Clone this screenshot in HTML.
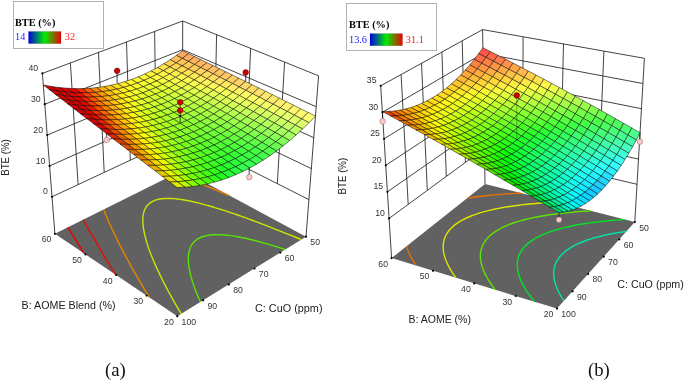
<!DOCTYPE html>
<html><head><meta charset="utf-8"><title>BTE response surfaces</title><style>html,body{margin:0;padding:0;background:#fff}svg{display:block}</style></head><body>
<svg width="685" height="380" viewBox="0 0 685 380">
<g stroke="#141414" stroke-width=".8" fill="none"><line x1="52" y1="196.8" x2="182.5" y2="135.8"/><line x1="182.5" y1="135.8" x2="308.9" y2="199.6"/><line x1="49.6" y1="165.9" x2="182.5" y2="107.1"/><line x1="182.5" y1="107.1" x2="311.4" y2="168.6"/><line x1="47.2" y1="135.1" x2="182.6" y2="78.4"/><line x1="182.6" y1="78.4" x2="313.8" y2="137.7"/><line x1="44.8" y1="104.2" x2="182.6" y2="49.7"/><line x1="182.6" y1="49.7" x2="316.2" y2="106.7"/><line x1="42.4" y1="73.4" x2="182.7" y2="21"/><line x1="182.7" y1="21" x2="318.6" y2="75.8"/><line x1="78.1" y1="184.6" x2="70.4" y2="62.9"/><line x1="104.2" y1="172.4" x2="98.5" y2="52.4"/><line x1="130.3" y1="160.2" x2="126.5" y2="41.9"/><line x1="156.4" y1="148" x2="154.6" y2="31.5"/><line x1="214.1" y1="151.8" x2="216.6" y2="34.7"/><line x1="245.7" y1="167.7" x2="250.6" y2="48.4"/><line x1="277.3" y1="183.6" x2="284.6" y2="62.1"/><line x1="54.9" y1="233.8" x2="42.4" y2="73.4"/><line x1="182.4" y1="170.3" x2="182.7" y2="21"/><line x1="306" y1="236.7" x2="318.6" y2="75.8"/></g>
<polygon points="54.9,233.8 177.3,316.2 306,236.7 182.4,170.3" fill="#616161"/>
<g fill="none" stroke-width="1.4" stroke-linecap="butt"><polyline points="285.3,249.5 281.6,248.3 278.1,247.2 275.2,246.3 272.1,245.4 268,244.1 265.1,243.3 262.1,242.5 259.2,241.7 255.5,240.7 251.8,239.8 248.6,239 245.5,238.3 242.3,237.7 239.1,237 235.8,236.4 232.7,235.9 230,235.6 227.2,235.2 223.5,234.9 220.3,234.7 217.5,234.7 214.2,234.7 210.5,235 207.6,235.4 204.3,236.2 201.7,237 198.2,238.7 195.4,240.6 193.8,242.2 192.2,244.1 191.1,246 190.3,247.7 189.6,249.6 189,251.8 188.7,253.6 188.4,255.4 188.3,257.6 188.3,259.2 188.4,261.4 188.5,263.2 188.7,265 189,267.4 189.3,269.1 189.7,271 190.2,273.3 190.7,275.4 191.1,277 191.7,279.1 192.4,281.4 193.2,283.7 193.9,285.7 194.5,287.5 195.2,289.4 196.1,291.7 197,294 198,296.2 198.9,298.5 199.9,300.8 200.5,301.9" stroke="#54e600"/><polyline points="301.3,239.6 298.7,238.5 294.9,237 291.9,235.7 288.5,234.4 284.6,232.8 282.1,231.8 278.3,230.3 275.7,229.3 271.9,227.8 269.2,226.7 265.6,225.3 262.3,224.1 259.2,222.9 255.8,221.6 252.9,220.5 249.7,219.3 246.5,218.2 243.8,217.2 240.2,215.9 237.6,215 233.8,213.7 231.2,212.8 227.7,211.7 224.8,210.7 222.2,209.8 218.3,208.6 215.6,207.8 213,207 209.8,206 206.3,205.1 203.6,204.3 200.9,203.6 198.1,202.9 195,202.2 191.8,201.4 188.7,200.8 185.7,200.2 182.9,199.8 180.3,199.4 177.3,199 173.9,198.6 170.9,198.5 168.3,198.4 165.1,198.5 161.7,198.7 158.7,199.2 156,199.9 152.6,201.3 149.8,203.1 148,204.7 146.5,206.5 145.5,208.1 144.8,209.5 144.1,211.3 143.5,213.3 143.3,214.5 143,216.6 142.9,218 142.8,220.1 142.8,221.3 142.9,223.4 143.1,225.2 143.2,226.6 143.5,228.6 143.9,230.6 144.1,232 144.5,233.8 145,235.8 145.5,237.8 146,239.5 146.4,241.1 146.9,242.9 147.6,244.9 148.2,246.9 148.9,248.9 149.7,250.9 150.3,252.7 151,254.4 151.7,256.2 152.4,258 153.2,259.9 154.1,261.9 154.9,263.9 155.8,265.9 156.7,268 157.7,270 158.6,272 159.6,274.1 160.6,276.1 161.6,278.1 162.6,280.2 163.6,282.2 164.7,284.3 165.7,286.4 166.8,288.4 167.9,290.5 169.1,292.6 170.3,294.9 171.6,297.2 172.9,299.6 174.3,302 175.5,304.2 176.8,306.3 178,308.4 179.3,310.6 180.6,312.7 181.2,313.8" stroke="#cde600"/><polyline points="103.7,209.5 104.4,211.2 105,212.9 105.7,214.5 106.4,216.2 107.1,217.8 107.8,219.5 108.5,221.3 109.3,223 110.1,224.8 110.9,226.5 111.7,228.3 112.6,230.1 113.4,232 114.3,233.8 115.2,235.7 116.1,237.5 116.9,239.3 117.8,241.1 118.7,242.9 119.7,244.7 120.6,246.5 121.5,248.4 122.5,250.2 123.4,252 124.4,253.9 125.4,255.7 126.4,257.7 127.6,259.8 128.7,261.9 129.9,264.1 131,266.1 132.1,268 133.1,269.9 134.2,271.8 135.3,273.7 136.4,275.6 137.6,277.7 139,280.1 140.4,282.4 141.6,284.4 142.7,286.4 143.9,288.3 145.1,290.3 146.3,292.3 147.9,294.8 149.4,297.3 149.5,297.4" stroke="#e68400"/><polyline points="229.5,195.6 226.4,194.3 223,192.9 220.8,192 217.4,190.6 214,189.2 211.8,188.3 208.4,186.9 205.9,185.9 202.8,184.7 199.4,183.4 197.2,182.5 193.8,181.2 191.6,180.3 188.2,179.1 186,178.2 182.6,177 180.1,176 177,174.9 174.8,174.1" stroke="#e68400"/><polyline points="83.3,219.7 84.2,221.3 85.1,223 86.3,225 87.4,227.1 88.3,228.7 89.3,230.4 90.2,232.1 91.2,233.8 92.2,235.5 93.4,237.5 94.6,239.7 95.6,241.4 96.6,243.2 97.6,244.9 98.6,246.7 99.7,248.5 101,250.7 102.3,252.8 103.3,254.6 104.4,256.4 105.5,258.2 106.5,260 108,262.3 109.3,264.5 110.4,266.3 111.5,268.2 112.6,270 113.9,272 115.4,274.5 115.4,274.5" stroke="#e60b00"/><polyline points="67.9,227.3 68.9,228.9 69.9,230.6 70.9,232.2 72.3,234.5 73.4,236.3 74.4,238 75.5,239.6 76.6,241.4 78,243.8 79.1,245.5 80.2,247.2 81.2,248.9 82.5,251 83.9,253.2 84,253.4" stroke="#e60000"/></g>
<line x1="106.7" y1="140" x2="106.7" y2="133" stroke="#111" stroke-width="0.8" stroke-opacity="1.0"/><circle cx="106.7" cy="140" r="2.8" fill="#ffc8c8" stroke="#8a6a6a" stroke-width=".5"/>
<line x1="249.2" y1="177.2" x2="249.2" y2="166" stroke="#111" stroke-width="0.8" stroke-opacity="1.0"/><circle cx="249.2" cy="177.2" r="2.8" fill="#ffc8c8" stroke="#8a6a6a" stroke-width=".5"/>
<g stroke="#000" stroke-opacity=".62" stroke-width=".78" stroke-linejoin="round"><polygon points="182.6,50.8 176.4,55.4 182.4,58.4 188.6,53.7" fill="#ffaa5e"/><polygon points="176.4,55.4 170.2,59.7 176.1,62.8 182.4,58.4" fill="#ffbf58"/><polygon points="170.2,59.7 163.8,63.7 169.8,66.9 176.1,62.8" fill="#ffd151"/><polygon points="163.8,63.7 157.5,67.5 163.4,70.7 169.8,66.9" fill="#ffe14b"/><polygon points="157.5,67.5 151,70.9 157,74.2 163.4,70.7" fill="#ffee44"/><polygon points="151,70.9 144.5,74.1 150.5,77.5 157,74.2" fill="#fff73e"/><polygon points="144.5,74.1 138,76.9 143.9,80.4 150.5,77.5" fill="#fffd37"/><polygon points="138,76.9 131.3,79.5 137.3,83 143.9,80.4" fill="#fffd31"/><polygon points="131.3,79.5 124.6,81.7 130.5,85.4 137.3,83" fill="#fff92a"/><polygon points="124.6,81.7 117.7,83.6 123.7,87.4 130.5,85.4" fill="#ffef24"/><polygon points="117.7,83.6 110.8,85.3 116.8,89.1 123.7,87.4" fill="#ffe01d"/><polygon points="110.8,85.3 103.8,86.6 109.8,90.5 116.8,89.1" fill="#ffca17"/><polygon points="103.8,86.6 96.7,87.6 102.6,91.6 109.8,90.5" fill="#ffad10"/><polygon points="96.7,87.6 89.4,88.3 95.4,92.4 102.6,91.6" fill="#ff890a"/><polygon points="89.4,88.3 82.1,88.6 88.1,92.8 95.4,92.4" fill="#ff5d03"/><polygon points="82.1,88.6 74.6,88.6 80.6,92.9 88.1,92.8" fill="#fc2b00"/><polygon points="74.6,88.6 67,88.2 73,92.6 80.6,92.9" fill="#f00000"/><polygon points="67,88.2 59.2,87.5 65.2,92 73,92.6" fill="#e00000"/><polygon points="59.2,87.5 51.3,86.4 57.4,91 65.2,92" fill="#d90000"/><polygon points="51.3,86.4 43.3,85 49.3,89.6 57.4,91" fill="#d90000"/><polygon points="188.6,53.7 182.4,58.4 188.4,61.4 194.6,56.6" fill="#ffae5f"/><polygon points="182.4,58.4 176.1,62.8 182.2,65.9 188.4,61.4" fill="#ffc459"/><polygon points="176.1,62.8 169.8,66.9 175.8,70.1 182.2,65.9" fill="#ffd752"/><polygon points="169.8,66.9 163.4,70.7 169.5,74 175.8,70.1" fill="#ffe84c"/><polygon points="163.4,70.7 157,74.2 163,77.6 169.5,74" fill="#fff645"/><polygon points="157,74.2 150.5,77.5 156.5,80.9 163,77.6" fill="#feff3f"/><polygon points="150.5,77.5 143.9,80.4 149.9,83.9 156.5,80.9" fill="#f8ff38"/><polygon points="143.9,80.4 137.3,83 143.3,86.7 149.9,83.9" fill="#f6ff32"/><polygon points="137.3,83 130.5,85.4 136.5,89.1 143.3,86.7" fill="#f9ff2b"/><polygon points="130.5,85.4 123.7,87.4 129.7,91.2 136.5,89.1" fill="#fffc25"/><polygon points="123.7,87.4 116.8,89.1 122.8,93 129.7,91.2" fill="#ffee1e"/><polygon points="116.8,89.1 109.8,90.5 115.8,94.5 122.8,93" fill="#ffda18"/><polygon points="109.8,90.5 102.6,91.6 108.7,95.7 115.8,94.5" fill="#ffbe11"/><polygon points="102.6,91.6 95.4,92.4 101.4,96.5 108.7,95.7" fill="#ff9c0b"/><polygon points="95.4,92.4 88.1,92.8 94.1,97 101.4,96.5" fill="#ff7105"/><polygon points="88.1,92.8 80.6,92.9 86.6,97.2 94.1,97" fill="#fd4000"/><polygon points="80.6,92.9 73,92.6 79,97 86.6,97.2" fill="#f30c00"/><polygon points="73,92.6 65.2,92 71.3,96.5 79,97" fill="#e30000"/><polygon points="65.2,92 57.4,91 63.4,95.6 71.3,96.5" fill="#d90000"/><polygon points="57.4,91 49.3,89.6 55.4,94.4 63.4,95.6" fill="#d90000"/><polygon points="194.6,56.6 188.4,61.4 194.5,64.5 200.8,59.6" fill="#ffb360"/><polygon points="188.4,61.4 182.2,65.9 188.3,69 194.5,64.5" fill="#ffc95a"/><polygon points="182.2,65.9 175.8,70.1 181.9,73.3 188.3,69" fill="#ffdd53"/><polygon points="175.8,70.1 169.5,74 175.5,77.3 181.9,73.3" fill="#ffef4d"/><polygon points="169.5,74 163,77.6 169.1,81 175.5,77.3" fill="#fffd46"/><polygon points="163,77.6 156.5,80.9 162.6,84.4 169.1,81" fill="#f5ff40"/><polygon points="156.5,80.9 149.9,83.9 156,87.5 162.6,84.4" fill="#eeff39"/><polygon points="149.9,83.9 143.3,86.7 149.3,90.3 156,87.5" fill="#ebff33"/><polygon points="143.3,86.7 136.5,89.1 142.6,92.9 149.3,90.3" fill="#edff2c"/><polygon points="136.5,89.1 129.7,91.2 135.8,95.1 142.6,92.9" fill="#f4ff26"/><polygon points="129.7,91.2 122.8,93 128.9,97 135.8,95.1" fill="#fffd1f"/><polygon points="122.8,93 115.8,94.5 121.9,98.5 128.9,97" fill="#ffe919"/><polygon points="115.8,94.5 108.7,95.7 114.8,99.8 121.9,98.5" fill="#ffd013"/><polygon points="108.7,95.7 101.4,96.5 107.5,100.7 114.8,99.8" fill="#ffaf0c"/><polygon points="101.4,96.5 94.1,97 100.2,101.3 107.5,100.7" fill="#ff8606"/><polygon points="94.1,97 86.6,97.2 92.7,101.6 100.2,101.3" fill="#fe5600"/><polygon points="86.6,97.2 79,97 85.2,101.5 92.7,101.6" fill="#f62100"/><polygon points="79,97 71.3,96.5 77.4,101.1 85.2,101.5" fill="#e60000"/><polygon points="71.3,96.5 63.4,95.6 69.6,100.3 77.4,101.1" fill="#d90000"/><polygon points="63.4,95.6 55.4,94.4 61.6,99.1 69.6,100.3" fill="#d90000"/><polygon points="200.8,59.6 194.5,64.5 200.7,67.5 206.9,62.6" fill="#ffb761"/><polygon points="194.5,64.5 188.3,69 194.4,72.2 200.7,67.5" fill="#ffce5b"/><polygon points="188.3,69 181.9,73.3 188.1,76.6 194.4,72.2" fill="#ffe354"/><polygon points="181.9,73.3 175.5,77.3 181.7,80.7 188.1,76.6" fill="#fff64e"/><polygon points="175.5,77.3 169.1,81 175.2,84.5 181.7,80.7" fill="#f9ff47"/><polygon points="169.1,81 162.6,84.4 168.7,88 175.2,84.5" fill="#edff41"/><polygon points="162.6,84.4 156,87.5 162.1,91.2 168.7,88" fill="#e5ff3a"/><polygon points="156,87.5 149.3,90.3 155.5,94.1 162.1,91.2" fill="#e1ff34"/><polygon points="149.3,90.3 142.6,92.9 148.7,96.7 155.5,94.1" fill="#e1ff2d"/><polygon points="142.6,92.9 135.8,95.1 141.9,99 148.7,96.7" fill="#e7ff27"/><polygon points="135.8,95.1 128.9,97 135,100.9 141.9,99" fill="#f3ff21"/><polygon points="128.9,97 121.9,98.5 128,102.6 135,100.9" fill="#fff91a"/><polygon points="121.9,98.5 114.8,99.8 120.9,104 128,102.6" fill="#ffe114"/><polygon points="114.8,99.8 107.5,100.7 113.7,105 120.9,104" fill="#ffc10d"/><polygon points="107.5,100.7 100.2,101.3 106.4,105.7 113.7,105" fill="#ff9a07"/><polygon points="100.2,101.3 92.7,101.6 98.9,106 106.4,105.7" fill="#ff6c00"/><polygon points="92.7,101.6 85.2,101.5 91.3,106 98.9,106" fill="#f83800"/><polygon points="85.2,101.5 77.4,101.1 83.6,105.7 91.3,106" fill="#e80100"/><polygon points="77.4,101.1 69.6,100.3 75.8,105 83.6,105.7" fill="#d90000"/><polygon points="69.6,100.3 61.6,99.1 67.8,103.9 75.8,105" fill="#d90000"/><polygon points="206.9,62.6 200.7,67.5 206.9,70.7 213.2,65.6" fill="#ffbc62"/><polygon points="200.7,67.5 194.4,72.2 200.6,75.4 206.9,70.7" fill="#ffd45c"/><polygon points="194.4,72.2 188.1,76.6 194.3,79.9 200.6,75.4" fill="#ffe955"/><polygon points="188.1,76.6 181.7,80.7 187.9,84.1 194.3,79.9" fill="#fffc4f"/><polygon points="181.7,80.7 175.2,84.5 181.5,88 187.9,84.1" fill="#f1ff48"/><polygon points="175.2,84.5 168.7,88 174.9,91.5 181.5,88" fill="#e4ff42"/><polygon points="168.7,88 162.1,91.2 168.3,94.8 174.9,91.5" fill="#dbff3b"/><polygon points="162.1,91.2 155.5,94.1 161.7,97.8 168.3,94.8" fill="#d6ff35"/><polygon points="155.5,94.1 148.7,96.7 155,100.5 161.7,97.8" fill="#d6ff2f"/><polygon points="148.7,96.7 141.9,99 148.1,102.9 155,100.5" fill="#daff28"/><polygon points="141.9,99 135,100.9 141.2,105 148.1,102.9" fill="#e5ff22"/><polygon points="135,100.9 128,102.6 134.2,106.7 141.2,105" fill="#f5ff1b"/><polygon points="128,102.6 120.9,104 127.1,108.2 134.2,106.7" fill="#fff215"/><polygon points="120.9,104 113.7,105 119.9,109.3 127.1,108.2" fill="#ffd40e"/><polygon points="113.7,105 106.4,105.7 112.6,110.1 119.9,109.3" fill="#ffaf08"/><polygon points="106.4,105.7 98.9,106 105.2,110.5 112.6,110.1" fill="#ff8101"/><polygon points="98.9,106 91.3,106 97.6,110.6 105.2,110.5" fill="#fa4e00"/><polygon points="91.3,106 83.6,105.7 89.9,110.4 97.6,110.6" fill="#eb1600"/><polygon points="83.6,105.7 75.8,105 82.1,109.7 89.9,110.4" fill="#db0000"/><polygon points="75.8,105 67.8,103.9 74.1,108.8 82.1,109.7" fill="#d90000"/><polygon points="213.2,65.6 206.9,70.7 213.2,73.8 219.5,68.7" fill="#ffc163"/><polygon points="206.9,70.7 200.6,75.4 206.9,78.7 213.2,73.8" fill="#ffd95d"/><polygon points="200.6,75.4 194.3,79.9 200.6,83.3 206.9,78.7" fill="#ffef56"/><polygon points="194.3,79.9 187.9,84.1 194.2,87.5 200.6,83.3" fill="#fbff50"/><polygon points="187.9,84.1 181.5,88 187.7,91.5 194.2,87.5" fill="#eaff49"/><polygon points="181.5,88 174.9,91.5 181.2,95.2 187.7,91.5" fill="#dcff43"/><polygon points="174.9,91.5 168.3,94.8 174.6,98.6 181.2,95.2" fill="#d1ff3d"/><polygon points="168.3,94.8 161.7,97.8 168,101.6 174.6,98.6" fill="#cbff36"/><polygon points="161.7,97.8 155,100.5 161.2,104.4 168,101.6" fill="#caff30"/><polygon points="155,100.5 148.1,102.9 154.4,106.9 161.2,104.4" fill="#cdff29"/><polygon points="148.1,102.9 141.2,105 147.5,109.1 154.4,106.9" fill="#d6ff23"/><polygon points="141.2,105 134.2,106.7 140.5,110.9 147.5,109.1" fill="#e5ff1c"/><polygon points="134.2,106.7 127.1,108.2 133.4,112.4 140.5,110.9" fill="#fbff16"/><polygon points="127.1,108.2 119.9,109.3 126.2,113.6 133.4,112.4" fill="#ffe70f"/><polygon points="119.9,109.3 112.6,110.1 118.9,114.5 126.2,113.6" fill="#ffc309"/><polygon points="112.6,110.1 105.2,110.5 111.5,115 118.9,114.5" fill="#ff9702"/><polygon points="105.2,110.5 97.6,110.6 103.9,115.2 111.5,115" fill="#fb6400"/><polygon points="97.6,110.6 89.9,110.4 96.2,115.1 103.9,115.2" fill="#ed2c00"/><polygon points="89.9,110.4 82.1,109.7 88.4,114.5 96.2,115.1" fill="#de0000"/><polygon points="82.1,109.7 74.1,108.8 80.4,113.7 88.4,114.5" fill="#d90000"/><polygon points="219.5,68.7 213.2,73.8 219.6,77.1 225.9,71.8" fill="#ffc564"/><polygon points="213.2,73.8 206.9,78.7 213.3,82 219.6,77.1" fill="#ffde5e"/><polygon points="206.9,78.7 200.6,83.3 206.9,86.6 213.3,82" fill="#fff557"/><polygon points="200.6,83.3 194.2,87.5 200.5,91 206.9,86.6" fill="#f4ff51"/><polygon points="194.2,87.5 187.7,91.5 194.1,95.1 200.5,91" fill="#e2ff4a"/><polygon points="187.7,91.5 181.2,95.2 187.5,98.8 194.1,95.1" fill="#d3ff44"/><polygon points="181.2,95.2 174.6,98.6 181,102.3 187.5,98.8" fill="#c8ff3e"/><polygon points="174.6,98.6 168,101.6 174.3,105.5 181,102.3" fill="#c1ff37"/><polygon points="168,101.6 161.2,104.4 167.6,108.4 174.3,105.5" fill="#beff31"/><polygon points="161.2,104.4 154.4,106.9 160.7,110.9 167.6,108.4" fill="#c0ff2a"/><polygon points="154.4,106.9 147.5,109.1 153.8,113.2 160.7,110.9" fill="#c8ff24"/><polygon points="147.5,109.1 140.5,110.9 146.9,115.1 153.8,113.2" fill="#d6ff1d"/><polygon points="140.5,110.9 133.4,112.4 139.8,116.7 146.9,115.1" fill="#eaff17"/><polygon points="133.4,112.4 126.2,113.6 132.6,118 139.8,116.7" fill="#fff910"/><polygon points="126.2,113.6 118.9,114.5 125.3,119 132.6,118" fill="#ffd70a"/><polygon points="118.9,114.5 111.5,115 117.8,119.6 125.3,119" fill="#ffad03"/><polygon points="111.5,115 103.9,115.2 110.3,119.9 117.8,119.6" fill="#fc7b00"/><polygon points="103.9,115.2 96.2,115.1 102.6,119.8 110.3,119.9" fill="#f04300"/><polygon points="96.2,115.1 88.4,114.5 94.8,119.4 102.6,119.8" fill="#e00a00"/><polygon points="88.4,114.5 80.4,113.7 86.8,118.6 94.8,119.4" fill="#d90000"/><polygon points="225.9,71.8 219.6,77.1 226,80.3 232.3,75" fill="#ffca65"/><polygon points="219.6,77.1 213.3,82 219.7,85.3 226,80.3" fill="#ffe45f"/><polygon points="213.3,82 206.9,86.6 213.4,90.1 219.7,85.3" fill="#fffb58"/><polygon points="206.9,86.6 200.5,91 207,94.5 213.4,90.1" fill="#edff52"/><polygon points="200.5,91 194.1,95.1 200.5,98.7 207,94.5" fill="#daff4c"/><polygon points="194.1,95.1 187.5,98.8 194,102.6 200.5,98.7" fill="#cbff45"/><polygon points="187.5,98.8 181,102.3 187.4,106.1 194,102.6" fill="#beff3f"/><polygon points="181,102.3 174.3,105.5 180.7,109.4 187.4,106.1" fill="#b6ff38"/><polygon points="174.3,105.5 167.6,108.4 174,112.4 180.7,109.4" fill="#b2ff32"/><polygon points="167.6,108.4 160.7,110.9 167.2,115 174,112.4" fill="#b4ff2b"/><polygon points="160.7,110.9 153.8,113.2 160.3,117.3 167.2,115" fill="#baff25"/><polygon points="153.8,113.2 146.9,115.1 153.3,119.4 160.3,117.3" fill="#c6ff1e"/><polygon points="146.9,115.1 139.8,116.7 146.2,121.1 153.3,119.4" fill="#d9ff18"/><polygon points="139.8,116.7 132.6,118 139,122.5 146.2,121.1" fill="#f3ff11"/><polygon points="132.6,118 125.3,119 131.7,123.5 139,122.5" fill="#ffeb0b"/><polygon points="125.3,119 117.8,119.6 124.3,124.2 131.7,123.5" fill="#ffc204"/><polygon points="117.8,119.6 110.3,119.9 116.7,124.6 124.3,124.2" fill="#fd9100"/><polygon points="110.3,119.9 102.6,119.8 109.1,124.6 116.7,124.6" fill="#f25900"/><polygon points="102.6,119.8 94.8,119.4 101.3,124.3 109.1,124.6" fill="#e22000"/><polygon points="94.8,119.4 86.8,118.6 93.3,123.6 101.3,124.3" fill="#d90000"/><polygon points="232.3,75 226,80.3 232.6,83.6 238.8,78.2" fill="#ffcf67"/><polygon points="226,80.3 219.7,85.3 226.2,88.7 232.6,83.6" fill="#ffe960"/><polygon points="219.7,85.3 213.4,90.1 219.9,93.6 226.2,88.7" fill="#fdff5a"/><polygon points="213.4,90.1 207,94.5 213.4,98.1 219.9,93.6" fill="#e7ff53"/><polygon points="207,94.5 200.5,98.7 207,102.4 213.4,98.1" fill="#d3ff4d"/><polygon points="200.5,98.7 194,102.6 200.4,106.3 207,102.4" fill="#c2ff46"/><polygon points="194,102.6 187.4,106.1 193.8,110 200.4,106.3" fill="#b5ff40"/><polygon points="187.4,106.1 180.7,109.4 187.2,113.3 193.8,110" fill="#acff39"/><polygon points="180.7,109.4 174,112.4 180.4,116.4 187.2,113.3" fill="#a7ff33"/><polygon points="174,112.4 167.2,115 173.6,119.1 180.4,116.4" fill="#a7ff2c"/><polygon points="167.2,115 160.3,117.3 166.7,121.6 173.6,119.1" fill="#acff26"/><polygon points="160.3,117.3 153.3,119.4 159.7,123.7 166.7,121.6" fill="#b7ff1f"/><polygon points="153.3,119.4 146.2,121.1 152.7,125.5 159.7,123.7" fill="#c8ff19"/><polygon points="146.2,121.1 139,122.5 145.5,127 152.7,125.5" fill="#e0ff12"/><polygon points="139,122.5 131.7,123.5 138.2,128.1 145.5,127" fill="#fffe0c"/><polygon points="131.7,123.5 124.3,124.2 130.8,128.9 138.2,128.1" fill="#ffd805"/><polygon points="124.3,124.2 116.7,124.6 123.3,129.4 130.8,128.9" fill="#fea800"/><polygon points="116.7,124.6 109.1,124.6 115.6,129.5 123.3,129.4" fill="#f57100"/><polygon points="109.1,124.6 101.3,124.3 107.8,129.2 115.6,129.5" fill="#e53600"/><polygon points="101.3,124.3 93.3,123.6 99.9,128.6 107.8,129.2" fill="#d90000"/><polygon points="238.8,78.2 232.6,83.6 239.1,86.9 245.4,81.4" fill="#ffd368"/><polygon points="232.6,83.6 226.2,88.7 232.8,92.2 239.1,86.9" fill="#ffee61"/><polygon points="226.2,88.7 219.9,93.6 226.4,97.1 232.8,92.2" fill="#f7ff5b"/><polygon points="219.9,93.6 213.4,98.1 220,101.7 226.4,97.1" fill="#e0ff54"/><polygon points="213.4,98.1 207,102.4 213.5,106.1 220,101.7" fill="#cbff4e"/><polygon points="207,102.4 200.4,106.3 207,110.1 213.5,106.1" fill="#baff47"/><polygon points="200.4,106.3 193.8,110 200.4,113.9 207,110.1" fill="#acff41"/><polygon points="193.8,110 187.2,113.3 193.7,117.3 200.4,113.9" fill="#a1ff3a"/><polygon points="187.2,113.3 180.4,116.4 187,120.5 193.7,117.3" fill="#9bff34"/><polygon points="180.4,116.4 173.6,119.1 180.2,123.3 187,120.5" fill="#9aff2d"/><polygon points="173.6,119.1 166.7,121.6 173.3,125.8 180.2,123.3" fill="#9eff27"/><polygon points="166.7,121.6 159.7,123.7 166.3,128.1 173.3,125.8" fill="#a8ff20"/><polygon points="159.7,123.7 152.7,125.5 159.2,129.9 166.3,128.1" fill="#b8ff1a"/><polygon points="152.7,125.5 145.5,127 152.1,131.5 159.2,129.9" fill="#ceff13"/><polygon points="145.5,127 138.2,128.1 144.8,132.7 152.1,131.5" fill="#ecff0d"/><polygon points="138.2,128.1 130.8,128.9 137.4,133.6 144.8,132.7" fill="#ffed06"/><polygon points="130.8,128.9 123.3,129.4 129.9,134.2 137.4,133.6" fill="#ffbf00"/><polygon points="123.3,129.4 115.6,129.5 122.2,134.4 129.9,134.2" fill="#f78800"/><polygon points="115.6,129.5 107.8,129.2 114.4,134.2 122.2,134.4" fill="#e74c00"/><polygon points="107.8,129.2 99.9,128.6 106.5,133.7 114.4,134.2" fill="#d91200"/><polygon points="245.4,81.4 239.1,86.9 245.8,90.3 252.1,84.7" fill="#ffd869"/><polygon points="239.1,86.9 232.8,92.2 239.4,95.6 245.8,90.3" fill="#fff362"/><polygon points="232.8,92.2 226.4,97.1 233.1,100.7 239.4,95.6" fill="#f1ff5c"/><polygon points="226.4,97.1 220,101.7 226.6,105.4 233.1,100.7" fill="#d9ff55"/><polygon points="220,101.7 213.5,106.1 220.1,109.8 226.6,105.4" fill="#c4ff4f"/><polygon points="213.5,106.1 207,110.1 213.6,114 220.1,109.8" fill="#b1ff48"/><polygon points="207,110.1 200.4,113.9 207,117.8 213.6,114" fill="#a2ff42"/><polygon points="200.4,113.9 193.7,117.3 200.3,121.4 207,117.8" fill="#97ff3b"/><polygon points="193.7,117.3 187,120.5 193.6,124.6 200.3,121.4" fill="#90ff35"/><polygon points="187,120.5 180.2,123.3 186.8,127.5 193.6,124.6" fill="#8dff2e"/><polygon points="180.2,123.3 173.3,125.8 179.9,130.2 186.8,127.5" fill="#90ff28"/><polygon points="173.3,125.8 166.3,128.1 172.9,132.5 179.9,130.2" fill="#99ff21"/><polygon points="166.3,128.1 159.2,129.9 165.9,134.5 172.9,132.5" fill="#a7ff1b"/><polygon points="159.2,129.9 152.1,131.5 158.7,136.1 165.9,134.5" fill="#bcff14"/><polygon points="152.1,131.5 144.8,132.7 151.4,137.4 158.7,136.1" fill="#d9ff0e"/><polygon points="144.8,132.7 137.4,133.6 144,138.4 151.4,137.4" fill="#fcff07"/><polygon points="137.4,133.6 129.9,134.2 136.5,139.1 144,138.4" fill="#ffd601"/><polygon points="129.9,134.2 122.2,134.4 128.9,139.4 136.5,139.1" fill="#f9a000"/><polygon points="122.2,134.4 114.4,134.2 121.1,139.3 128.9,139.4" fill="#e96300"/><polygon points="114.4,134.2 106.5,133.7 113.2,138.9 121.1,139.3" fill="#d92700"/><polygon points="252.1,84.7 245.8,90.3 252.5,93.7 258.8,88" fill="#ffdd6a"/><polygon points="245.8,90.3 239.4,95.6 246.2,99.1 252.5,93.7" fill="#fff963"/><polygon points="239.4,95.6 233.1,100.7 239.8,104.3 246.2,99.1" fill="#ebff5d"/><polygon points="233.1,100.7 226.6,105.4 233.3,109.1 239.8,104.3" fill="#d3ff56"/><polygon points="226.6,105.4 220.1,109.8 226.8,113.6 233.3,109.1" fill="#bcff50"/><polygon points="220.1,109.8 213.6,114 220.3,117.9 226.8,113.6" fill="#a9ff49"/><polygon points="213.6,114 207,117.8 213.7,121.8 220.3,117.9" fill="#99ff43"/><polygon points="207,117.8 200.3,121.4 207,125.5 213.7,121.8" fill="#8cff3c"/><polygon points="200.3,121.4 193.6,124.6 200.3,128.8 207,125.5" fill="#84ff36"/><polygon points="193.6,124.6 186.8,127.5 193.5,131.8 200.3,128.8" fill="#81ff2f"/><polygon points="186.8,127.5 179.9,130.2 186.6,134.5 193.5,131.8" fill="#82ff29"/><polygon points="179.9,130.2 172.9,132.5 179.6,136.9 186.6,134.5" fill="#89ff22"/><polygon points="172.9,132.5 165.9,134.5 172.6,139 179.6,136.9" fill="#97ff1c"/><polygon points="165.9,134.5 158.7,136.1 165.4,140.8 172.6,139" fill="#abff15"/><polygon points="158.7,136.1 151.4,137.4 158.1,142.2 165.4,140.8" fill="#c5ff0f"/><polygon points="151.4,137.4 144,138.4 150.8,143.3 158.1,142.2" fill="#e7ff08"/><polygon points="144,138.4 136.5,139.1 143.3,144 150.8,143.3" fill="#ffec02"/><polygon points="136.5,139.1 128.9,139.4 135.6,144.4 143.3,144" fill="#fab800"/><polygon points="128.9,139.4 121.1,139.3 127.9,144.4 135.6,144.4" fill="#ec7a00"/><polygon points="121.1,139.3 113.2,138.9 120,144.1 127.9,144.4" fill="#dc3d00"/><polygon points="258.8,88 252.5,93.7 259.3,97.2 265.6,91.3" fill="#ffe16b"/><polygon points="252.5,93.7 246.2,99.1 252.9,102.7 259.3,97.2" fill="#fffe64"/><polygon points="246.2,99.1 239.8,104.3 246.5,107.9 252.9,102.7" fill="#e5ff5e"/><polygon points="239.8,104.3 233.3,109.1 240.1,112.9 246.5,107.9" fill="#ccff57"/><polygon points="233.3,109.1 226.8,113.6 233.6,117.5 240.1,112.9" fill="#b5ff51"/><polygon points="226.8,113.6 220.3,117.9 227.1,121.8 233.6,117.5" fill="#a1ff4a"/><polygon points="220.3,117.9 213.7,121.8 220.4,125.9 227.1,121.8" fill="#8fff44"/><polygon points="213.7,121.8 207,125.5 213.8,129.6 220.4,125.9" fill="#82ff3d"/><polygon points="207,125.5 200.3,128.8 207,133 213.8,129.6" fill="#79ff37"/><polygon points="200.3,128.8 193.5,131.8 200.2,136.2 207,133" fill="#74ff30"/><polygon points="193.5,131.8 186.6,134.5 193.4,139 200.2,136.2" fill="#75ff2a"/><polygon points="186.6,134.5 179.6,136.9 186.4,141.5 193.4,139" fill="#7aff23"/><polygon points="179.6,136.9 172.6,139 179.3,143.6 186.4,141.5" fill="#86ff1d"/><polygon points="172.6,139 165.4,140.8 172.2,145.5 179.3,143.6" fill="#99ff16"/><polygon points="165.4,140.8 158.1,142.2 164.9,147 172.2,145.5" fill="#b2ff10"/><polygon points="158.1,142.2 150.8,143.3 157.6,148.1 164.9,147" fill="#d3ff09"/><polygon points="150.8,143.3 143.3,144 150.1,149 157.6,148.1" fill="#fbff02"/><polygon points="143.3,144 135.6,144.4 142.5,149.4 150.1,149" fill="#fbcf00"/><polygon points="135.6,144.4 127.9,144.4 134.7,149.6 142.5,149.4" fill="#ee9200"/><polygon points="127.9,144.4 120,144.1 126.9,149.3 134.7,149.6" fill="#de5300"/><polygon points="265.6,91.3 259.3,97.2 266.2,100.7 272.5,94.7" fill="#ffe66c"/><polygon points="259.3,97.2 252.9,102.7 259.8,106.3 266.2,100.7" fill="#fbff65"/><polygon points="252.9,102.7 246.5,107.9 253.4,111.6 259.8,106.3" fill="#dfff5f"/><polygon points="246.5,107.9 240.1,112.9 246.9,116.7 253.4,111.6" fill="#c5ff58"/><polygon points="240.1,112.9 233.6,117.5 240.4,121.4 246.9,116.7" fill="#adff52"/><polygon points="233.6,117.5 227.1,121.8 233.9,125.8 240.4,121.4" fill="#98ff4b"/><polygon points="227.1,121.8 220.4,125.9 227.3,130 233.9,125.8" fill="#86ff45"/><polygon points="220.4,125.9 213.8,129.6 220.6,133.8 227.3,130" fill="#78ff3e"/><polygon points="213.8,129.6 207,133 213.9,137.3 220.6,133.8" fill="#6dff38"/><polygon points="207,133 200.2,136.2 207.1,140.5 213.9,137.3" fill="#68ff31"/><polygon points="200.2,136.2 193.4,139 200.2,143.4 207.1,140.5" fill="#67ff2b"/><polygon points="193.4,139 186.4,141.5 193.2,146 200.2,143.4" fill="#6bff24"/><polygon points="186.4,141.5 179.3,143.6 186.2,148.3 193.2,146" fill="#76ff1e"/><polygon points="179.3,143.6 172.2,145.5 179,150.2 186.2,148.3" fill="#87ff17"/><polygon points="172.2,145.5 164.9,147 171.8,151.8 179,150.2" fill="#9fff10"/><polygon points="164.9,147 157.6,148.1 164.4,153.1 171.8,151.8" fill="#beff0a"/><polygon points="157.6,148.1 150.1,149 157,154 164.4,153.1" fill="#e5ff03"/><polygon points="150.1,149 142.5,149.4 149.4,154.6 157,154" fill="#fce700"/><polygon points="142.5,149.4 134.7,149.6 141.7,154.8 149.4,154.6" fill="#f0a900"/><polygon points="134.7,149.6 126.9,149.3 133.8,154.6 141.7,154.8" fill="#e06a00"/><polygon points="272.5,94.7 266.2,100.7 273.1,104.2 279.5,98.2" fill="#ffeb6d"/><polygon points="266.2,100.7 259.8,106.3 266.7,109.9 273.1,104.2" fill="#f6ff66"/><polygon points="259.8,106.3 253.4,111.6 260.3,115.4 266.7,109.9" fill="#d9ff60"/><polygon points="253.4,111.6 246.9,116.7 253.9,120.5 260.3,115.4" fill="#bfff59"/><polygon points="246.9,116.7 240.4,121.4 247.4,125.4 253.9,120.5" fill="#a6ff53"/><polygon points="240.4,121.4 233.9,125.8 240.8,129.9 247.4,125.4" fill="#90ff4c"/><polygon points="233.9,125.8 227.3,130 234.2,134.1 240.8,129.9" fill="#7dff46"/><polygon points="227.3,130 220.6,133.8 227.5,138.1 234.2,134.1" fill="#6dff3f"/><polygon points="220.6,133.8 213.9,137.3 220.8,141.7 227.5,138.1" fill="#62ff39"/><polygon points="213.9,137.3 207.1,140.5 214,145 220.8,141.7" fill="#5bff32"/><polygon points="207.1,140.5 200.2,143.4 207.1,148 214,145" fill="#59ff2c"/><polygon points="200.2,143.4 193.2,146 200.2,150.7 207.1,148" fill="#5dff25"/><polygon points="193.2,146 186.2,148.3 193.1,153 200.2,150.7" fill="#66ff1e"/><polygon points="186.2,148.3 179,150.2 186,155 193.1,153" fill="#76ff18"/><polygon points="179,150.2 171.8,151.8 178.7,156.7 186,155" fill="#8cff11"/><polygon points="171.8,151.8 164.4,153.1 171.4,158.1 178.7,156.7" fill="#aaff0b"/><polygon points="164.4,153.1 157,154 163.9,159.1 171.4,158.1" fill="#cfff04"/><polygon points="157,154 149.4,154.6 156.4,159.7 163.9,159.1" fill="#fbfd00"/><polygon points="149.4,154.6 141.7,154.8 148.7,160 156.4,159.7" fill="#f2c100"/><polygon points="141.7,154.8 133.8,154.6 140.8,160 148.7,160" fill="#e28100"/><polygon points="279.5,98.2 273.1,104.2 280.2,107.8 286.5,101.7" fill="#ffef6e"/><polygon points="273.1,104.2 266.7,109.9 273.8,113.6 280.2,107.8" fill="#f1ff68"/><polygon points="266.7,109.9 260.3,115.4 267.3,119.2 273.8,113.6" fill="#d3ff61"/><polygon points="260.3,115.4 253.9,120.5 260.9,124.4 267.3,119.2" fill="#b8ff5a"/><polygon points="253.9,120.5 247.4,125.4 254.4,129.4 260.9,124.4" fill="#9fff54"/><polygon points="247.4,125.4 240.8,129.9 247.8,134 254.4,129.4" fill="#88ff4d"/><polygon points="240.8,129.9 234.2,134.1 241.2,138.3 247.8,134" fill="#74ff47"/><polygon points="234.2,134.1 227.5,138.1 234.5,142.4 241.2,138.3" fill="#63ff40"/><polygon points="227.5,138.1 220.8,141.7 227.8,146.1 234.5,142.4" fill="#57ff3a"/><polygon points="220.8,141.7 214,145 221,149.5 227.8,146.1" fill="#4fff33"/><polygon points="214,145 207.1,148 214.1,152.6 221,149.5" fill="#4bff2c"/><polygon points="207.1,148 200.2,150.7 207.2,155.3 214.1,152.6" fill="#4eff26"/><polygon points="200.2,150.7 193.1,153 200.1,157.8 207.2,155.3" fill="#56ff1f"/><polygon points="193.1,153 186,155 193,159.9 200.1,157.8" fill="#64ff19"/><polygon points="186,155 178.7,156.7 185.8,161.7 193,159.9" fill="#79ff12"/><polygon points="178.7,156.7 171.4,158.1 178.4,163.1 185.8,161.7" fill="#96ff0c"/><polygon points="171.4,158.1 163.9,159.1 171,164.2 178.4,163.1" fill="#baff05"/><polygon points="163.9,159.1 156.4,159.7 163.4,165 171,164.2" fill="#e5fd00"/><polygon points="156.4,159.7 148.7,160 155.7,165.4 163.4,165" fill="#f4da00"/><polygon points="148.7,160 140.8,160 147.9,165.4 155.7,165.4" fill="#e49800"/><polygon points="286.5,101.7 280.2,107.8 287.3,111.4 293.6,105.2" fill="#fff46e"/><polygon points="280.2,107.8 273.8,113.6 280.9,117.4 287.3,111.4" fill="#ebff69"/><polygon points="273.8,113.6 267.3,119.2 274.4,123 280.9,117.4" fill="#ceff62"/><polygon points="267.3,119.2 260.9,124.4 267.9,128.4 274.4,123" fill="#b1ff5c"/><polygon points="260.9,124.4 254.4,129.4 261.4,133.4 267.9,128.4" fill="#97ff55"/><polygon points="254.4,129.4 247.8,134 254.9,138.1 261.4,133.4" fill="#7fff4e"/><polygon points="247.8,134 241.2,138.3 248.2,142.6 254.9,138.1" fill="#6aff48"/><polygon points="241.2,138.3 234.5,142.4 241.6,146.7 248.2,142.6" fill="#59ff41"/><polygon points="234.5,142.4 227.8,146.1 234.8,150.5 241.6,146.7" fill="#4bff3b"/><polygon points="227.8,146.1 221,149.5 228.1,154 234.8,150.5" fill="#42ff34"/><polygon points="221,149.5 214.1,152.6 221.2,157.2 228.1,154" fill="#3eff2d"/><polygon points="214.1,152.6 207.2,155.3 214.2,160.1 221.2,157.2" fill="#3fff27"/><polygon points="207.2,155.3 200.1,157.8 207.2,162.6 214.2,160.1" fill="#46ff20"/><polygon points="200.1,157.8 193,159.9 200.1,164.8 207.2,162.6" fill="#53ff1a"/><polygon points="193,159.9 185.8,161.7 192.9,166.7 200.1,164.8" fill="#66ff13"/><polygon points="185.8,161.7 178.4,163.1 185.5,168.2 192.9,166.7" fill="#81ff0c"/><polygon points="178.4,163.1 171,164.2 178.1,169.4 185.5,168.2" fill="#a4ff06"/><polygon points="171,164.2 163.4,165 170.6,170.3 178.1,169.4" fill="#cefe00"/><polygon points="163.4,165 155.7,165.4 162.9,170.7 170.6,170.3" fill="#f6f300"/><polygon points="155.7,165.4 147.9,165.4 155.1,170.8 162.9,170.7" fill="#e6af00"/><polygon points="293.6,105.2 287.3,111.4 294.4,115.1 300.8,108.8" fill="#fff86e"/><polygon points="287.3,111.4 280.9,117.4 288,121.2 294.4,115.1" fill="#e6ff6a"/><polygon points="280.9,117.4 274.4,123 281.6,126.9 288,121.2" fill="#c8ff63"/><polygon points="274.4,123 267.9,128.4 275.1,132.4 281.6,126.9" fill="#abff5d"/><polygon points="267.9,128.4 261.4,133.4 268.6,137.5 275.1,132.4" fill="#90ff56"/><polygon points="261.4,133.4 254.9,138.1 262,142.4 268.6,137.5" fill="#77ff4f"/><polygon points="254.9,138.1 248.2,142.6 255.4,146.9 262,142.4" fill="#61ff49"/><polygon points="248.2,142.6 241.6,146.7 248.7,151.1 255.4,146.9" fill="#4fff42"/><polygon points="241.6,146.7 234.8,150.5 242,155 248.7,151.1" fill="#40ff3c"/><polygon points="234.8,150.5 228.1,154 235.2,158.6 242,155" fill="#36ff35"/><polygon points="228.1,154 221.2,157.2 228.3,161.9 235.2,158.6" fill="#30ff2e"/><polygon points="221.2,157.2 214.2,160.1 221.4,164.9 228.3,161.9" fill="#30ff28"/><polygon points="214.2,160.1 207.2,162.6 214.4,167.5 221.4,164.9" fill="#36ff21"/><polygon points="207.2,162.6 200.1,164.8 207.3,169.8 214.4,167.5" fill="#41ff1b"/><polygon points="200.1,164.8 192.9,166.7 200,171.8 207.3,169.8" fill="#54ff14"/><polygon points="192.9,166.7 185.5,168.2 192.7,173.4 200,171.8" fill="#6dff0d"/><polygon points="185.5,168.2 178.1,169.4 185.3,174.7 192.7,173.4" fill="#8fff07"/><polygon points="178.1,169.4 170.6,170.3 177.8,175.6 185.3,174.7" fill="#b8ff00"/><polygon points="170.6,170.3 162.9,170.7 170.1,176.2 177.8,175.6" fill="#e4f800"/><polygon points="162.9,170.7 155.1,170.8 162.3,176.4 170.1,176.2" fill="#e7c700"/><polygon points="300.8,108.8 294.4,115.1 301.7,118.9 308.1,112.4" fill="#fffd6e"/><polygon points="294.4,115.1 288,121.2 295.3,125 301.7,118.9" fill="#e1ff6b"/><polygon points="288,121.2 281.6,126.9 288.8,130.9 295.3,125" fill="#c2ff64"/><polygon points="281.6,126.9 275.1,132.4 282.3,136.4 288.8,130.9" fill="#a4ff5e"/><polygon points="275.1,132.4 268.6,137.5 275.8,141.7 282.3,136.4" fill="#88ff57"/><polygon points="268.6,137.5 262,142.4 269.2,146.6 275.8,141.7" fill="#6fff50"/><polygon points="262,142.4 255.4,146.9 262.6,151.2 269.2,146.6" fill="#58ff4a"/><polygon points="255.4,146.9 248.7,151.1 256,155.6 262.6,151.2" fill="#45ff43"/><polygon points="248.7,151.1 242,155 249.2,159.6 256,155.6" fill="#3cff44"/><polygon points="242,155 235.2,158.6 242.4,163.3 249.2,159.6" fill="#36ff42"/><polygon points="235.2,158.6 228.3,161.9 235.6,166.7 242.4,163.3" fill="#2fff3b"/><polygon points="228.3,161.9 221.4,164.9 228.6,169.7 235.6,166.7" fill="#29ff30"/><polygon points="221.4,164.9 214.4,167.5 221.6,172.4 228.6,169.7" fill="#26ff22"/><polygon points="214.4,167.5 207.3,169.8 214.5,174.8 221.6,172.4" fill="#30ff1b"/><polygon points="207.3,169.8 200,171.8 207.3,176.9 214.5,174.8" fill="#41ff15"/><polygon points="200,171.8 192.7,173.4 200,178.6 207.3,176.9" fill="#59ff0e"/><polygon points="192.7,173.4 185.3,174.7 192.6,180 200,178.6" fill="#79ff07"/><polygon points="185.3,174.7 177.8,175.6 185.1,181 192.6,180" fill="#a1ff01"/><polygon points="177.8,175.6 170.1,176.2 177.4,181.7 185.1,181" fill="#cef900"/><polygon points="170.1,176.2 162.3,176.4 169.7,182 177.4,181.7" fill="#e9de00"/><polygon points="308.1,112.4 301.7,118.9 309.1,122.6 315.5,116.1" fill="#fcff6e"/><polygon points="301.7,118.9 295.3,125 302.6,128.9 309.1,122.6" fill="#dcff6c"/><polygon points="295.3,125 288.8,130.9 296.2,134.9 302.6,128.9" fill="#bcff65"/><polygon points="288.8,130.9 282.3,136.4 289.7,140.5 296.2,134.9" fill="#9eff5f"/><polygon points="282.3,136.4 275.8,141.7 283.1,145.9 289.7,140.5" fill="#81ff58"/><polygon points="275.8,141.7 269.2,146.6 276.6,150.9 283.1,145.9" fill="#67ff51"/><polygon points="269.2,146.6 262.6,151.2 269.9,155.7 276.6,150.9" fill="#4fff4b"/><polygon points="262.6,151.2 256,155.6 263.3,160.1 269.9,155.7" fill="#44ff4d"/><polygon points="256,155.6 249.2,159.6 256.5,164.2 263.3,160.1" fill="#3dff51"/><polygon points="249.2,159.6 242.4,163.3 249.7,168 256.5,164.2" fill="#37ff50"/><polygon points="242.4,163.3 235.6,166.7 242.9,171.5 249.7,168" fill="#30ff4b"/><polygon points="235.6,166.7 228.6,169.7 236,174.6 242.9,171.5" fill="#29ff40"/><polygon points="228.6,169.7 221.6,172.4 228.9,177.5 236,174.6" fill="#23ff30"/><polygon points="221.6,172.4 214.5,174.8 221.8,179.9 228.9,177.5" fill="#1fff1c"/><polygon points="214.5,174.8 207.3,176.9 214.7,182.1 221.8,179.9" fill="#2fff16"/><polygon points="207.3,176.9 200,178.6 207.4,183.9 214.7,182.1" fill="#46ff0f"/><polygon points="200,178.6 192.6,180 200,185.4 207.4,183.9" fill="#64ff08"/><polygon points="192.6,180 185.1,181 192.5,186.5 200,185.4" fill="#8bff02"/><polygon points="185.1,181 177.4,181.7 184.9,187.2 192.5,186.5" fill="#b7fa00"/><polygon points="177.4,181.7 169.7,182 177.1,187.6 184.9,187.2" fill="#dfeb00"/></g>
<line x1="117.1" y1="70.8" x2="117.1" y2="82.9" stroke="#111" stroke-width="0.8" stroke-opacity="1.0"/><circle cx="117.1" cy="70.8" r="2.8" fill="#c80000" stroke="#6e0000" stroke-width=".5"/>
<line x1="245.7" y1="72.4" x2="245.7" y2="81.4" stroke="#111" stroke-width="0.8" stroke-opacity="1.0"/><circle cx="245.7" cy="72.4" r="2.8" fill="#c80000" stroke="#6e0000" stroke-width=".5"/>
<line x1="180.2" y1="102.2" x2="180.2" y2="122.3" stroke="#111" stroke-width="0.8" stroke-opacity="1.0"/><circle cx="180.2" cy="102.2" r="2.8" fill="#c80000" stroke="#6e0000" stroke-width=".5"/><circle cx="180.2" cy="110.5" r="2.8" fill="#c80000" stroke="#6e0000" stroke-width=".5"/><circle cx="180.2" cy="115.9" r=".9" fill="#111"/>
<g fill="#000"><circle cx="54.9" cy="233.8" r="1.1"/><circle cx="85.5" cy="254.4" r="1.1"/><circle cx="116.1" cy="275" r="1.1"/><circle cx="146.7" cy="295.6" r="1.1"/><circle cx="177.3" cy="316.2" r="1.1"/><circle cx="203.1" cy="300.3" r="1.1"/><circle cx="228.8" cy="284.4" r="1.1"/><circle cx="254.5" cy="268.5" r="1.1"/><circle cx="280.3" cy="252.6" r="1.1"/><circle cx="306" cy="236.7" r="1.1"/><circle cx="52" cy="196.8" r="1.1"/><circle cx="49.6" cy="165.9" r="1.1"/><circle cx="47.2" cy="135.1" r="1.1"/><circle cx="44.8" cy="104.2" r="1.1"/><circle cx="42.4" cy="73.4" r="1.1"/></g><g font-family='"Liberation Sans","DejaVu Sans",sans-serif' font-size="8.7" fill="#333"><text x="46.5" y="242.4" text-anchor="middle">60</text><text x="77.1" y="263" text-anchor="middle">50</text><text x="107.7" y="283.6" text-anchor="middle">40</text><text x="138.3" y="304.2" text-anchor="middle">30</text><text x="168.9" y="324.8" text-anchor="middle">20</text><text x="188.8" y="324.6" text-anchor="middle">100</text><text x="212.3" y="308.7" text-anchor="middle">90</text><text x="238" y="292.8" text-anchor="middle">80</text><text x="263.7" y="276.9" text-anchor="middle">70</text><text x="289.5" y="261" text-anchor="middle">60</text><text x="315.2" y="245.1" text-anchor="middle">50</text><text x="47.8" y="194.4" text-anchor="end">0</text><text x="45.4" y="163.5" text-anchor="end">10</text><text x="43" y="132.7" text-anchor="end">20</text><text x="40.6" y="101.8" text-anchor="end">30</text><text x="38.2" y="71" text-anchor="end">40</text></g>
<g stroke="#141414" stroke-width=".8" fill="none"><line x1="389.1" y1="218.4" x2="484.5" y2="148.4"/><line x1="484.5" y1="148.4" x2="637" y2="184.3"/><line x1="387.4" y1="191.8" x2="484.1" y2="124.6"/><line x1="484.1" y1="124.6" x2="638.5" y2="159.1"/><line x1="385.8" y1="165.3" x2="483.7" y2="100.9"/><line x1="483.7" y1="100.9" x2="640" y2="133.9"/><line x1="384.1" y1="138.8" x2="483.4" y2="77.1"/><line x1="483.4" y1="77.1" x2="641.4" y2="108.7"/><line x1="382.4" y1="112.3" x2="483" y2="53.4"/><line x1="483" y1="53.4" x2="642.9" y2="83.5"/><line x1="380.7" y1="85.8" x2="482.6" y2="29.6"/><line x1="482.6" y1="29.6" x2="644.4" y2="58.3"/><line x1="408.2" y1="204.4" x2="401.1" y2="74.5"/><line x1="427.3" y1="190.4" x2="421.5" y2="63.3"/><line x1="446.3" y1="176.4" x2="441.9" y2="52.1"/><line x1="465.4" y1="162.4" x2="462.2" y2="40.8"/><line x1="522.6" y1="157.4" x2="523.1" y2="36.8"/><line x1="560.7" y1="166.3" x2="563.5" y2="43.9"/><line x1="598.9" y1="175.3" x2="603.9" y2="51.1"/><line x1="391.6" y1="258.1" x2="380.7" y2="85.8"/><line x1="485" y1="184" x2="482.6" y2="29.6"/><line x1="634.8" y1="222.1" x2="644.4" y2="58.3"/></g>
<polygon points="391.6,258.1 557,308.6 634.8,222.1 485,184" fill="#616161"/>
<g fill="none" stroke-width="1.4" stroke-linecap="butt"><polyline points="626.5,231.3 623.7,231.7 620.7,232.2 618,232.6 614.7,233.2 612.5,233.6 609,234.3 606.5,234.8 603.9,235.4 600.7,236.2 597.8,236.9 595.5,237.5 593,238.2 590.2,239.1 587.4,240 584.7,241 582.2,242 579.7,243 577.3,244.1 574,245.7 572,246.9 570,248.1 567.2,249.9 564.7,251.9 563.2,253.2 561.1,255.3 559.8,256.8 558.2,258.9 556.8,261.3 556,262.9 555,265.3 554.5,267.1 554.1,268.8 553.9,270.6 553.7,272.5 553.7,274.4 553.9,276.3 554.1,278.3 554.5,280.4 555,282.4 555.4,283.9 556,285.7 556.9,288 557.5,289.5 558.4,291.4 559.4,293.5 560.3,295 561.6,297.3 562.5,298.8 563.9,300.9 563.9,300.9" stroke="#00e6a8"/><polyline points="624.6,219.5 622.2,219.6 618.7,219.9 615.3,220.1 613,220.3 609.8,220.6 606.3,220.9 604.2,221.2 600.7,221.5 597.9,221.9 595.1,222.2 591.8,222.6 589.5,222.9 585.9,223.5 583.7,223.8 580.3,224.4 577.7,224.8 575,225.3 571.5,226 569.4,226.5 566.5,227.1 563.3,227.9 560.6,228.6 558.3,229.2 555.8,229.9 553,230.8 550.3,231.7 547.7,232.7 545.1,233.7 542.4,234.8 539.3,236.3 537.2,237.4 535.1,238.5 532.3,240.3 529.7,242.1 528,243.4 525.8,245.4 523.8,247.5 522.7,249 521.1,251.2 520.2,252.8 519.1,255.1 518.5,256.8 518,258.5 517.6,260.3 517.4,262.2 517.2,264 517.3,265.8 517.4,267.6 517.6,269.6 518,271.6 518.4,273.4 518.8,274.8 519.5,276.9 520.2,278.8 520.8,280.3 521.9,282.6 522.5,283.8 523.7,286.1 524.4,287.4 525.8,289.7 526.7,291.1 528.1,293.2 529.3,294.9 530.4,296.5 532.1,298.7 533.3,300.3 534.4,301.7" stroke="#00e627"/><polyline points="590.6,210.8 588.2,211 584.8,211.2 581.4,211.4 578.9,211.6 576.1,211.8 572.5,212.2 570.1,212.4 567.2,212.7 563.7,213 561.6,213.3 558,213.7 555.6,214 552.3,214.4 549.7,214.8 546.5,215.3 544.1,215.7 540.6,216.3 538.5,216.7 535.3,217.3 532.3,217.9 530.1,218.4 527.2,219.1 524.1,219.8 521.1,220.7 518.6,221.4 516.1,222.2 513.4,223 510.7,224 507.7,225.2 505.4,226.2 503.1,227.2 500.8,228.4 497.9,230 496,231.2 493.4,232.9 491,234.8 488.8,236.8 486.9,238.9 485.7,240.3 484.2,242.5 483.3,244.1 482.3,246.3 481.6,248.1 481.1,249.7 480.8,251.5 480.5,253.2 480.4,255 480.4,256.9 480.5,258.7 480.7,260.2 481,261.7 481.4,263.8 481.9,265.6 482.3,266.9 483.1,269.1 483.6,270.5 484.4,272.4 485.2,274.1 486.2,275.9 487,277.5 488.2,279.5 489,280.8 490.4,283 491.4,284.5 492.5,286.1 494.1,288.2 495.2,289.8 495.2,289.8" stroke="#5ae600"/><polyline points="556.1,202.1 553.7,202.2 550.9,202.4 547.5,202.6 544.4,202.8 542.1,202.9 538.8,203.2 535.4,203.5 533.3,203.7 530,204 526.9,204.3 524.6,204.5 520.9,204.9 518.8,205.2 515.3,205.7 513,206 509.6,206.5 507.4,206.8 503.8,207.4 501.6,207.8 498.6,208.4 495.3,209 493.2,209.5 490.5,210.1 487.4,210.9 484.4,211.6 481.6,212.4 479,213.2 476.4,214.1 473.5,215.1 471.1,216 468.7,217 466.4,218 463.2,219.6 461.2,220.7 458.4,222.4 456.6,223.6 454.2,225.4 452,227.4 450.6,228.7 448.8,230.8 447.7,232.3 446.4,234.4 445.6,236 444.9,237.5 444.3,239.3 443.8,241.1 443.5,242.8 443.3,244.4 443.2,246 443.2,247.9 443.3,249.8 443.5,251.4 443.7,252.7 444.1,254.7 444.6,256.4 445,257.8 445.8,259.9 446.2,261 447.2,263.2 447.7,264.4 448.8,266.5 449.5,267.8 450.5,269.7 451.6,271.4 452.4,272.8 453.8,274.8 454.9,276.4 455.8,277.7" stroke="#dbe600"/><polyline points="521,193.2 518.6,193.3 515.3,193.4 512,193.6 509.1,193.8 506.9,193.9 503.6,194.1 500.1,194.4 497.9,194.6 494.9,194.8 491.5,195.1 489.5,195.3 486,195.7 483.4,196 480.5,196.3 477.5,196.7 474.9,197 471.9,197.5 469.1,197.9 467.1,198.2" stroke="#e67000"/><polyline points="406.6,246.3 406.9,247.4 407.6,249.5 408,250.6 408.9,252.7 409.4,253.8 410.3,255.8 411,257.2 411.9,258.8 413,260.7 413.8,261.9 414.8,263.6 416.1,265.5 416.2,265.6" stroke="#e67000"/></g>
<line x1="382.6" y1="121.3" x2="382.6" y2="111" stroke="#111" stroke-width="0.8" stroke-opacity="1.0"/><circle cx="382.6" cy="121.3" r="2.8" fill="#ffc8c8" stroke="#8a6a6a" stroke-width=".5"/>
<line x1="639.9" y1="141.7" x2="639.9" y2="132" stroke="#111" stroke-width="0.8" stroke-opacity="1.0"/><circle cx="639.9" cy="141.7" r="2.8" fill="#ffc8c8" stroke="#8a6a6a" stroke-width=".5"/>
<g stroke="#000" stroke-opacity=".62" stroke-width=".78" stroke-linejoin="round"><polygon points="482.9,47.7 478.6,53.7 486.1,57.5 490.4,51.5" fill="#ff554a"/><polygon points="478.6,53.7 474.2,59.4 481.7,63.3 486.1,57.5" fill="#ff6c45"/><polygon points="474.2,59.4 469.8,64.9 477.3,68.8 481.7,63.3" fill="#ff8241"/><polygon points="469.8,64.9 465.3,70 472.9,74 477.3,68.8" fill="#ff963c"/><polygon points="465.3,70 460.7,74.9 468.3,79 472.9,74" fill="#ffa837"/><polygon points="460.7,74.9 456.1,79.5 463.8,83.6 468.3,79" fill="#ffb832"/><polygon points="456.1,79.5 451.4,83.8 459.1,88 463.8,83.6" fill="#ffc52d"/><polygon points="451.4,83.8 446.6,87.9 454.4,92 459.1,88" fill="#ffd029"/><polygon points="446.6,87.9 441.8,91.6 449.6,95.8 454.4,92" fill="#ffd824"/><polygon points="441.8,91.6 436.9,95 444.7,99.2 449.6,95.8" fill="#ffdd1f"/><polygon points="436.9,95 431.9,98.1 439.7,102.4 444.7,99.2" fill="#ffdf1a"/><polygon points="431.9,98.1 426.8,100.9 434.7,105.2 439.7,102.4" fill="#ffdd16"/><polygon points="426.8,100.9 421.6,103.4 429.6,107.8 434.7,105.2" fill="#ffd811"/><polygon points="421.6,103.4 416.3,105.6 424.3,110 429.6,107.8" fill="#ffce0c"/><polygon points="416.3,105.6 411,107.5 419,111.9 424.3,110" fill="#ffc107"/><polygon points="411,107.5 405.5,109 413.6,113.4 419,111.9" fill="#ffaf03"/><polygon points="405.5,109 399.9,110.1 408,114.6 413.6,113.4" fill="#fd9800"/><polygon points="399.9,110.1 394.2,111 402.4,115.4 408,114.6" fill="#f87d00"/><polygon points="394.2,111 388.3,111.4 396.6,115.9 402.4,115.4" fill="#f36000"/><polygon points="388.3,111.4 382.4,111.5 390.7,116 396.6,115.9" fill="#ee3f00"/><polygon points="490.4,51.5 486.1,57.5 493.6,61.4 497.9,55.3" fill="#ff694a"/><polygon points="486.1,57.5 481.7,63.3 489.3,67.2 493.6,61.4" fill="#ff8146"/><polygon points="481.7,63.3 477.3,68.8 484.9,72.8 489.3,67.2" fill="#ff9741"/><polygon points="477.3,68.8 472.9,74 480.5,78.1 484.9,72.8" fill="#ffac3c"/><polygon points="472.9,74 468.3,79 476,83 480.5,78.1" fill="#ffbe37"/><polygon points="468.3,79 463.8,83.6 471.5,87.7 476,83" fill="#ffcf32"/><polygon points="463.8,83.6 459.1,88 466.8,92.1 471.5,87.7" fill="#ffdd2e"/><polygon points="459.1,88 454.4,92 462.2,96.2 466.8,92.1" fill="#ffe829"/><polygon points="454.4,92 449.6,95.8 457.4,100 462.2,96.2" fill="#fff124"/><polygon points="449.6,95.8 444.7,99.2 452.6,103.5 457.4,100" fill="#fff71f"/><polygon points="444.7,99.2 439.7,102.4 447.7,106.7 452.6,103.5" fill="#fff91a"/><polygon points="439.7,102.4 434.7,105.2 442.7,109.6 447.7,106.7" fill="#fff816"/><polygon points="434.7,105.2 429.6,107.8 437.6,112.2 442.7,109.6" fill="#fff311"/><polygon points="429.6,107.8 424.3,110 432.4,114.4 437.6,112.2" fill="#ffea0c"/><polygon points="424.3,110 419,111.9 427.1,116.3 432.4,114.4" fill="#ffdd07"/><polygon points="419,111.9 413.6,113.4 421.7,117.9 427.1,116.3" fill="#ffcb02"/><polygon points="413.6,113.4 408,114.6 416.2,119.1 421.7,117.9" fill="#fdb400"/><polygon points="408,114.6 402.4,115.4 410.6,120 416.2,119.1" fill="#f89800"/><polygon points="402.4,115.4 396.6,115.9 404.9,120.5 410.6,120" fill="#f37a00"/><polygon points="396.6,115.9 390.7,116 399.1,120.6 404.9,120.5" fill="#ed5800"/><polygon points="497.9,55.3 493.6,61.4 501.2,65.3 505.5,59.1" fill="#ff7d4b"/><polygon points="493.6,61.4 489.3,67.2 496.9,71.2 501.2,65.3" fill="#ff9546"/><polygon points="489.3,67.2 484.9,72.8 492.6,76.8 496.9,71.2" fill="#ffac41"/><polygon points="484.9,72.8 480.5,78.1 488.2,82.1 492.6,76.8" fill="#ffc23c"/><polygon points="480.5,78.1 476,83 483.7,87.2 488.2,82.1" fill="#ffd537"/><polygon points="476,83 471.5,87.7 479.2,91.9 483.7,87.2" fill="#ffe633"/><polygon points="471.5,87.7 466.8,92.1 474.6,96.4 479.2,91.9" fill="#fff52e"/><polygon points="466.8,92.1 462.2,96.2 470,100.5 474.6,96.4" fill="#fdff29"/><polygon points="462.2,96.2 457.4,100 465.3,104.3 470,100.5" fill="#f4ff24"/><polygon points="457.4,100 452.6,103.5 460.5,107.9 465.3,104.3" fill="#eeff1f"/><polygon points="452.6,103.5 447.7,106.7 455.6,111.1 460.5,107.9" fill="#ebff1a"/><polygon points="447.7,106.7 442.7,109.6 450.7,114 455.6,111.1" fill="#ecff16"/><polygon points="442.7,109.6 437.6,112.2 445.6,116.6 450.7,114" fill="#f0ff11"/><polygon points="437.6,112.2 432.4,114.4 440.5,118.9 445.6,116.6" fill="#f9ff0c"/><polygon points="432.4,114.4 427.1,116.3 435.3,120.8 440.5,118.9" fill="#fff907"/><polygon points="427.1,116.3 421.7,117.9 429.9,122.4 435.3,120.8" fill="#ffe802"/><polygon points="421.7,117.9 416.2,119.1 424.5,123.7 429.9,122.4" fill="#fcd000"/><polygon points="416.2,119.1 410.6,120 419,124.6 424.5,123.7" fill="#f8b400"/><polygon points="410.6,120 404.9,120.5 413.3,125.1 419,124.6" fill="#f39500"/><polygon points="404.9,120.5 399.1,120.6 407.5,125.2 413.3,125.1" fill="#ec7200"/><polygon points="505.5,59.1 501.2,65.3 508.8,69.3 513.1,63.1" fill="#ff914b"/><polygon points="501.2,65.3 496.9,71.2 504.6,75.2 508.8,69.3" fill="#ffaa46"/><polygon points="496.9,71.2 492.6,76.8 500.3,80.9 504.6,75.2" fill="#ffc241"/><polygon points="492.6,76.8 488.2,82.1 495.9,86.3 500.3,80.9" fill="#ffd83c"/><polygon points="488.2,82.1 483.7,87.2 491.5,91.3 495.9,86.3" fill="#ffec37"/><polygon points="483.7,87.2 479.2,91.9 487,96.1 491.5,91.3" fill="#fffe33"/><polygon points="479.2,91.9 474.6,96.4 482.5,100.6 487,96.1" fill="#f1ff2e"/><polygon points="474.6,96.4 470,100.5 477.9,104.8 482.5,100.6" fill="#e4ff29"/><polygon points="470,100.5 465.3,104.3 473.2,108.7 477.9,104.8" fill="#daff24"/><polygon points="465.3,104.3 460.5,107.9 468.4,112.3 473.2,108.7" fill="#d4ff1f"/><polygon points="460.5,107.9 455.6,111.1 463.6,115.6 468.4,112.3" fill="#d0ff1a"/><polygon points="455.6,111.1 450.7,114 458.7,118.5 463.6,115.6" fill="#d1ff16"/><polygon points="450.7,114 445.6,116.6 453.7,121.1 458.7,118.5" fill="#d5ff11"/><polygon points="445.6,116.6 440.5,118.9 448.6,123.4 453.7,121.1" fill="#ddff0c"/><polygon points="440.5,118.9 435.3,120.8 443.5,125.4 448.6,123.4" fill="#e9ff07"/><polygon points="435.3,120.8 429.9,122.4 438.2,127 443.5,125.4" fill="#faff02"/><polygon points="429.9,122.4 424.5,123.7 432.8,128.3 438.2,127" fill="#fcec00"/><polygon points="424.5,123.7 419,124.6 427.3,129.2 432.8,128.3" fill="#f7cf00"/><polygon points="419,124.6 413.3,125.1 421.7,129.7 427.3,129.2" fill="#f3af00"/><polygon points="413.3,125.1 407.5,125.2 416,129.9 421.7,129.7" fill="#eb8b00"/><polygon points="513.1,63.1 508.8,69.3 516.5,73.3 520.7,67" fill="#ffa64b"/><polygon points="508.8,69.3 504.6,75.2 512.3,79.3 516.5,73.3" fill="#ffc046"/><polygon points="504.6,75.2 500.3,80.9 508,85 512.3,79.3" fill="#ffd841"/><polygon points="500.3,80.9 495.9,86.3 503.7,90.5 508,85" fill="#ffee3d"/><polygon points="495.9,86.3 491.5,91.3 499.3,95.6 503.7,90.5" fill="#fbff38"/><polygon points="491.5,91.3 487,96.1 494.8,100.4 499.3,95.6" fill="#e9ff33"/><polygon points="487,96.1 482.5,100.6 490.3,105 494.8,100.4" fill="#d9ff2e"/><polygon points="482.5,100.6 477.9,104.8 485.8,109.2 490.3,105" fill="#cbff29"/><polygon points="477.9,104.8 473.2,108.7 481.1,113.1 485.8,109.2" fill="#c1ff24"/><polygon points="473.2,108.7 468.4,112.3 476.4,116.7 481.1,113.1" fill="#baff1f"/><polygon points="468.4,112.3 463.6,115.6 471.7,120.1 476.4,116.7" fill="#b6ff1a"/><polygon points="463.6,115.6 458.7,118.5 466.8,123 471.7,120.1" fill="#b5ff15"/><polygon points="458.7,118.5 453.7,121.1 461.9,125.7 466.8,123" fill="#b9ff11"/><polygon points="453.7,121.1 448.6,123.4 456.8,128 461.9,125.7" fill="#c0ff0c"/><polygon points="448.6,123.4 443.5,125.4 451.7,130 456.8,128" fill="#ccff07"/><polygon points="443.5,125.4 438.2,127 446.5,131.7 451.7,130" fill="#ddff02"/><polygon points="438.2,127 432.8,128.3 441.2,133 446.5,131.7" fill="#effc00"/><polygon points="432.8,128.3 427.3,129.2 435.7,133.9 441.2,133" fill="#f7eb00"/><polygon points="427.3,129.2 421.7,129.7 430.2,134.5 435.7,133.9" fill="#f2ca00"/><polygon points="421.7,129.7 416,129.9 424.5,134.6 430.2,134.5" fill="#eaa400"/><polygon points="520.7,67 516.5,73.3 524.2,77.4 528.4,71" fill="#ffba4b"/><polygon points="516.5,73.3 512.3,79.3 520,83.4 524.2,77.4" fill="#ffd547"/><polygon points="512.3,79.3 508,85 515.8,89.2 520,83.4" fill="#ffee42"/><polygon points="508,85 503.7,90.5 511.5,94.7 515.8,89.2" fill="#f9ff3d"/><polygon points="503.7,90.5 499.3,95.6 507.1,99.9 511.5,94.7" fill="#e4ff38"/><polygon points="499.3,95.6 494.8,100.4 502.7,104.8 507.1,99.9" fill="#d1ff33"/><polygon points="494.8,100.4 490.3,105 498.3,109.3 502.7,104.8" fill="#c0ff2e"/><polygon points="490.3,105 485.8,109.2 493.7,113.6 498.3,109.3" fill="#b2ff29"/><polygon points="485.8,109.2 481.1,113.1 489.1,117.6 493.7,113.6" fill="#a7ff24"/><polygon points="481.1,113.1 476.4,116.7 484.5,121.3 489.1,117.6" fill="#9fff1f"/><polygon points="476.4,116.7 471.7,120.1 479.8,124.6 484.5,121.3" fill="#9bff1a"/><polygon points="471.7,120.1 466.8,123 474.9,127.6 479.8,124.6" fill="#9aff15"/><polygon points="466.8,123 461.9,125.7 470,130.3 474.9,127.6" fill="#9dff10"/><polygon points="461.9,125.7 456.8,128 465.1,132.7 470,130.3" fill="#a4ff0c"/><polygon points="456.8,128 451.7,130 460,134.7 465.1,132.7" fill="#afff07"/><polygon points="451.7,130 446.5,131.7 454.8,136.4 460,134.7" fill="#bfff02"/><polygon points="446.5,131.7 441.2,133 449.6,137.7 454.8,136.4" fill="#d2fc00"/><polygon points="441.2,133 435.7,133.9 444.2,138.7 449.6,137.7" fill="#e6f700"/><polygon points="435.7,133.9 430.2,134.5 438.7,139.2 444.2,138.7" fill="#f2e600"/><polygon points="430.2,134.5 424.5,134.6 433.1,139.4 438.7,139.2" fill="#e9be00"/><polygon points="528.4,71 524.2,77.4 532,81.5 536.1,75.1" fill="#ffcf4c"/><polygon points="524.2,77.4 520,83.4 527.8,87.6 532,81.5" fill="#ffea47"/><polygon points="520,83.4 515.8,89.2 523.6,93.4 527.8,87.6" fill="#faff42"/><polygon points="515.8,89.2 511.5,94.7 519.3,99 523.6,93.4" fill="#e2ff3d"/><polygon points="511.5,94.7 507.1,99.9 515,104.2 519.3,99" fill="#ccff38"/><polygon points="507.1,99.9 502.7,104.8 510.6,109.1 515,104.2" fill="#b8ff33"/><polygon points="502.7,104.8 498.3,109.3 506.2,113.8 510.6,109.1" fill="#a7ff2e"/><polygon points="498.3,109.3 493.7,113.6 501.7,118.1 506.2,113.8" fill="#98ff29"/><polygon points="493.7,113.6 489.1,117.6 497.2,122.1 501.7,118.1" fill="#8dff24"/><polygon points="489.1,117.6 484.5,121.3 492.6,125.8 497.2,122.1" fill="#84ff1f"/><polygon points="484.5,121.3 479.8,124.6 487.9,129.2 492.6,125.8" fill="#7fff1a"/><polygon points="479.8,124.6 474.9,127.6 483.1,132.3 487.9,129.2" fill="#7eff15"/><polygon points="474.9,127.6 470,130.3 478.3,135 483.1,132.3" fill="#80ff10"/><polygon points="470,130.3 465.1,132.7 473.4,137.4 478.3,135" fill="#87ff0b"/><polygon points="465.1,132.7 460,134.7 468.3,139.4 473.4,137.4" fill="#92ff06"/><polygon points="460,134.7 454.8,136.4 463.2,141.1 468.3,139.4" fill="#a1ff01"/><polygon points="454.8,136.4 449.6,137.7 458,142.5 463.2,141.1" fill="#b4fb00"/><polygon points="449.6,137.7 444.2,138.7 452.7,143.5 458,142.5" fill="#caf700"/><polygon points="444.2,138.7 438.7,139.2 447.3,144.1 452.7,143.5" fill="#e2f200"/><polygon points="438.7,139.2 433.1,139.4 441.7,144.3 447.3,144.1" fill="#e7d700"/><polygon points="536.1,75.1 532,81.5 539.8,85.7 543.9,79.2" fill="#ffe44c"/><polygon points="532,81.5 527.8,87.6 535.6,91.9 539.8,85.7" fill="#feff47"/><polygon points="527.8,87.6 523.6,93.4 531.4,97.7 535.6,91.9" fill="#e3ff42"/><polygon points="523.6,93.4 519.3,99 527.2,103.3 531.4,97.7" fill="#cbff3d"/><polygon points="519.3,99 515,104.2 522.9,108.6 527.2,103.3" fill="#b4ff38"/><polygon points="515,104.2 510.6,109.1 518.6,113.6 522.9,108.6" fill="#a0ff33"/><polygon points="510.6,109.1 506.2,113.8 514.2,118.3 518.6,113.6" fill="#8eff2e"/><polygon points="506.2,113.8 501.7,118.1 509.8,122.6 514.2,118.3" fill="#7fff29"/><polygon points="501.7,118.1 497.2,122.1 505.3,126.7 509.8,122.6" fill="#72ff24"/><polygon points="497.2,122.1 492.6,125.8 500.7,130.4 505.3,126.7" fill="#69ff1f"/><polygon points="492.6,125.8 487.9,129.2 496.1,133.8 500.7,130.4" fill="#63ff1a"/><polygon points="487.9,129.2 483.1,132.3 491.4,136.9 496.1,133.8" fill="#62ff15"/><polygon points="483.1,132.3 478.3,135 486.6,139.7 491.4,136.9" fill="#63ff10"/><polygon points="478.3,135 473.4,137.4 481.7,142.1 486.6,139.7" fill="#69ff0b"/><polygon points="473.4,137.4 468.3,139.4 476.7,144.2 481.7,142.1" fill="#74ff06"/><polygon points="468.3,139.4 463.2,141.1 471.7,146 476.7,144.2" fill="#83ff01"/><polygon points="463.2,141.1 458,142.5 466.5,147.3 471.7,146" fill="#96fb00"/><polygon points="458,142.5 452.7,143.5 461.3,148.3 466.5,147.3" fill="#adf600"/><polygon points="452.7,143.5 447.3,144.1 455.9,149 461.3,148.3" fill="#c6f100"/><polygon points="447.3,144.1 441.7,144.3 450.4,149.2 455.9,149" fill="#dce600"/><polygon points="543.9,79.2 539.8,85.7 547.6,89.9 551.7,83.4" fill="#fffa4c"/><polygon points="539.8,85.7 535.6,91.9 543.5,96.1 547.6,89.9" fill="#e8ff47"/><polygon points="535.6,91.9 531.4,97.7 539.3,102.1 543.5,96.1" fill="#cdff42"/><polygon points="531.4,97.7 527.2,103.3 535.1,107.7 539.3,102.1" fill="#b3ff3d"/><polygon points="527.2,103.3 522.9,108.6 530.9,113 535.1,107.7" fill="#9cff38"/><polygon points="522.9,108.6 518.6,113.6 526.6,118.1 530.9,113" fill="#87ff33"/><polygon points="518.6,113.6 514.2,118.3 522.3,122.8 526.6,118.1" fill="#74ff2e"/><polygon points="514.2,118.3 509.8,122.6 517.9,127.2 522.3,122.8" fill="#64ff29"/><polygon points="509.8,122.6 505.3,126.7 513.4,131.3 517.9,127.2" fill="#58ff24"/><polygon points="505.3,126.7 500.7,130.4 508.9,135.1 513.4,131.3" fill="#4eff1f"/><polygon points="500.7,130.4 496.1,133.8 504.3,138.6 508.9,135.1" fill="#48ff1a"/><polygon points="496.1,133.8 491.4,136.9 499.6,141.7 504.3,138.6" fill="#45ff15"/><polygon points="491.4,136.9 486.6,139.7 494.9,144.5 499.6,141.7" fill="#46ff10"/><polygon points="486.6,139.7 481.7,142.1 490.1,147 494.9,144.5" fill="#4cff0b"/><polygon points="481.7,142.1 476.7,144.2 485.2,149.1 490.1,147" fill="#56ff06"/><polygon points="476.7,144.2 471.7,146 480.2,150.8 485.2,149.1" fill="#65ff01"/><polygon points="471.7,146 466.5,147.3 475.1,152.2 480.2,150.8" fill="#78fb00"/><polygon points="466.5,147.3 461.3,148.3 469.9,153.3 475.1,152.2" fill="#8ff600"/><polygon points="461.3,148.3 455.9,149 464.6,153.9 469.9,153.3" fill="#a9f100"/><polygon points="455.9,149 450.4,149.2 459.2,154.2 464.6,153.9" fill="#c0e500"/><polygon points="551.7,83.4 547.6,89.9 555.4,94.2 559.5,87.6" fill="#efff4c"/><polygon points="547.6,89.9 543.5,96.1 551.4,100.5 555.4,94.2" fill="#d2ff48"/><polygon points="543.5,96.1 539.3,102.1 547.3,106.5 551.4,100.5" fill="#b6ff42"/><polygon points="539.3,102.1 535.1,107.7 543.1,112.1 547.3,106.5" fill="#9cff3d"/><polygon points="535.1,107.7 530.9,113 538.9,117.5 543.1,112.1" fill="#84ff38"/><polygon points="530.9,113 526.6,118.1 534.7,122.6 538.9,117.5" fill="#6eff33"/><polygon points="526.6,118.1 522.3,122.8 530.3,127.4 534.7,122.6" fill="#5bff2e"/><polygon points="522.3,122.8 517.9,127.2 526,131.8 530.3,127.4" fill="#4aff29"/><polygon points="517.9,127.2 513.4,131.3 521.6,136 526,131.8" fill="#3dff24"/><polygon points="513.4,131.3 508.9,135.1 517.1,139.8 521.6,136" fill="#32ff1f"/><polygon points="508.9,135.1 504.3,138.6 512.6,143.3 517.1,139.8" fill="#2bff1a"/><polygon points="504.3,138.6 499.6,141.7 507.9,146.5 512.6,143.3" fill="#28ff15"/><polygon points="499.6,141.7 494.9,144.5 503.3,149.3 507.9,146.5" fill="#29ff10"/><polygon points="494.9,144.5 490.1,147 498.5,151.8 503.3,149.3" fill="#2eff0b"/><polygon points="490.1,147 485.2,149.1 493.6,154 498.5,151.8" fill="#37ff06"/><polygon points="485.2,149.1 480.2,150.8 488.7,155.8 493.6,154" fill="#46ff01"/><polygon points="480.2,150.8 475.1,152.2 483.7,157.2 488.7,155.8" fill="#5afb00"/><polygon points="475.1,152.2 469.9,153.3 478.6,158.2 483.7,157.2" fill="#72f600"/><polygon points="469.9,153.3 464.6,153.9 473.3,158.9 478.6,158.2" fill="#8df100"/><polygon points="464.6,153.9 459.2,154.2 468,159.2 473.3,158.9" fill="#a5e400"/><polygon points="559.5,87.6 555.4,94.2 563.4,98.5 567.4,91.9" fill="#d9ff4c"/><polygon points="555.4,94.2 551.4,100.5 559.3,104.9 563.4,98.5" fill="#bbff48"/><polygon points="551.4,100.5 547.3,106.5 555.2,110.9 559.3,104.9" fill="#9fff43"/><polygon points="547.3,106.5 543.1,112.1 551.1,116.6 555.2,110.9" fill="#84ff3e"/><polygon points="543.1,112.1 538.9,117.5 546.9,122.1 551.1,116.6" fill="#6bff38"/><polygon points="538.9,117.5 534.7,122.6 542.7,127.2 546.9,122.1" fill="#55ff33"/><polygon points="534.7,122.6 530.3,127.4 538.5,132 542.7,127.2" fill="#41ff2e"/><polygon points="530.3,127.4 526,131.8 534.2,136.5 538.5,132" fill="#30ff29"/><polygon points="526,131.8 521.6,136 529.8,140.7 534.2,136.5" fill="#24ff27"/><polygon points="521.6,136 517.1,139.8 525.4,144.6 529.8,140.7" fill="#1fff28"/><polygon points="517.1,139.8 512.6,143.3 520.9,148.1 525.4,144.6" fill="#1aff25"/><polygon points="512.6,143.3 507.9,146.5 516.3,151.3 520.9,148.1" fill="#15ff1f"/><polygon points="507.9,146.5 503.3,149.3 511.7,154.2 516.3,151.3" fill="#10ff14"/><polygon points="503.3,149.3 498.5,151.8 507,156.7 511.7,154.2" fill="#10ff0b"/><polygon points="498.5,151.8 493.6,154 502.2,158.9 507,156.7" fill="#19ff06"/><polygon points="493.6,154 488.7,155.8 497.3,160.7 502.2,158.9" fill="#26ff01"/><polygon points="488.7,155.8 483.7,157.2 492.3,162.2 497.3,160.7" fill="#3cfa00"/><polygon points="483.7,157.2 478.6,158.2 487.3,163.3 492.3,162.2" fill="#54f500"/><polygon points="478.6,158.2 473.3,158.9 482.1,164 487.3,163.3" fill="#70f000"/><polygon points="473.3,158.9 468,159.2 476.8,164.3 482.1,164" fill="#89e300"/><polygon points="567.4,91.9 563.4,98.5 571.3,102.9 575.3,96.2" fill="#c3ff4c"/><polygon points="563.4,98.5 559.3,104.9 567.3,109.3 571.3,102.9" fill="#a5ff48"/><polygon points="559.3,104.9 555.2,110.9 563.2,115.4 567.3,109.3" fill="#88ff43"/><polygon points="555.2,110.9 551.1,116.6 559.2,121.2 563.2,115.4" fill="#6cff3e"/><polygon points="551.1,116.6 546.9,122.1 555,126.7 559.2,121.2" fill="#53ff39"/><polygon points="546.9,122.1 542.7,127.2 550.9,131.8 555,126.7" fill="#3bff33"/><polygon points="542.7,127.2 538.5,132 546.6,136.7 550.9,131.8" fill="#2eff36"/><polygon points="538.5,132 534.2,136.5 542.4,141.3 546.6,136.7" fill="#29ff3e"/><polygon points="534.2,136.5 529.8,140.7 538.1,145.5 542.4,141.3" fill="#24ff43"/><polygon points="529.8,140.7 525.4,144.6 533.7,149.4 538.1,145.5" fill="#1fff44"/><polygon points="525.4,144.6 520.9,148.1 529.2,153 533.7,149.4" fill="#1aff42"/><polygon points="520.9,148.1 516.3,151.3 524.7,156.2 529.2,153" fill="#15ff3c"/><polygon points="516.3,151.3 511.7,154.2 520.1,159.2 524.7,156.2" fill="#10ff32"/><polygon points="511.7,154.2 507,156.7 515.5,161.7 520.1,159.2" fill="#0bff24"/><polygon points="507,156.7 502.2,158.9 510.8,163.9 515.5,161.7" fill="#05ff11"/><polygon points="502.2,158.9 497.3,160.7 505.9,165.8 510.8,163.9" fill="#07ff00"/><polygon points="497.3,160.7 492.3,162.2 501,167.3 505.9,165.8" fill="#1dfa00"/><polygon points="492.3,162.2 487.3,163.3 496,168.4 501,167.3" fill="#36f500"/><polygon points="487.3,163.3 482.1,164 491,169.1 496,168.4" fill="#53f000"/><polygon points="482.1,164 476.8,164.3 485.8,169.4 491,169.1" fill="#6ee200"/><polygon points="575.3,96.2 571.3,102.9 579.3,107.3 583.2,100.6" fill="#adff4c"/><polygon points="571.3,102.9 567.3,109.3 575.3,113.8 579.3,107.3" fill="#8eff48"/><polygon points="567.3,109.3 563.2,115.4 571.3,119.9 575.3,113.8" fill="#70ff43"/><polygon points="563.2,115.4 559.2,121.2 567.3,125.8 571.3,119.9" fill="#54ff3e"/><polygon points="559.2,121.2 555,126.7 563.2,131.3 567.3,125.8" fill="#3aff39"/><polygon points="555,126.7 550.9,131.8 559,136.5 563.2,131.3" fill="#34ff46"/><polygon points="550.9,131.8 546.6,136.7 554.9,141.5 559,136.5" fill="#2eff51"/><polygon points="546.6,136.7 542.4,141.3 550.6,146.1 554.9,141.5" fill="#29ff59"/><polygon points="542.4,141.3 538.1,145.5 546.4,150.3 550.6,146.1" fill="#24ff5e"/><polygon points="538.1,145.5 533.7,149.4 542,154.3 546.4,150.3" fill="#1fff61"/><polygon points="533.7,149.4 529.2,153 537.6,157.9 542,154.3" fill="#1aff5f"/><polygon points="529.2,153 524.7,156.2 533.2,161.2 537.6,157.9" fill="#15ff5a"/><polygon points="524.7,156.2 520.1,159.2 528.7,164.2 533.2,161.2" fill="#10ff50"/><polygon points="520.1,159.2 515.5,161.7 524.1,166.8 528.7,164.2" fill="#0aff43"/><polygon points="515.5,161.7 510.8,163.9 519.4,169 524.1,166.8" fill="#05ff30"/><polygon points="510.8,163.9 505.9,165.8 514.6,170.9 519.4,169" fill="#00ff19"/><polygon points="505.9,165.8 501,167.3 509.8,172.4 514.6,170.9" fill="#00fa02"/><polygon points="501,167.3 496,168.4 504.9,173.5 509.8,172.4" fill="#18f500"/><polygon points="496,168.4 491,169.1 499.8,174.3 504.9,173.5" fill="#36f000"/><polygon points="491,169.1 485.8,169.4 494.7,174.6 499.8,174.3" fill="#52e100"/><polygon points="583.2,100.6 579.3,107.3 587.3,111.8 591.2,105" fill="#97ff4c"/><polygon points="579.3,107.3 575.3,113.8 583.4,118.3 587.3,111.8" fill="#77ff48"/><polygon points="575.3,113.8 571.3,119.9 579.4,124.5 583.4,118.3" fill="#59ff43"/><polygon points="571.3,119.9 567.3,125.8 575.4,130.4 579.4,124.5" fill="#3eff41"/><polygon points="567.3,125.8 563.2,131.3 571.3,136 575.4,130.4" fill="#39ff51"/><polygon points="563.2,131.3 559,136.5 567.3,141.3 571.3,136" fill="#34ff60"/><polygon points="559,136.5 554.9,141.5 563.1,146.3 567.3,141.3" fill="#2eff6b"/><polygon points="554.9,141.5 550.6,146.1 558.9,150.9 563.1,146.3" fill="#29ff75"/><polygon points="550.6,146.1 546.4,150.3 554.7,155.2 558.9,150.9" fill="#24ff7b"/><polygon points="546.4,150.3 542,154.3 550.4,159.2 554.7,155.2" fill="#1fff7d"/><polygon points="542,154.3 537.6,157.9 546.1,162.9 550.4,159.2" fill="#1aff7c"/><polygon points="537.6,157.9 533.2,161.2 541.7,166.2 546.1,162.9" fill="#15ff78"/><polygon points="533.2,161.2 528.7,164.2 537.2,169.2 541.7,166.2" fill="#0fff6f"/><polygon points="528.7,164.2 524.1,166.8 532.7,171.8 537.2,169.2" fill="#0aff62"/><polygon points="524.1,166.8 519.4,169 528.1,174.1 532.7,171.8" fill="#05ff50"/><polygon points="519.4,169 514.6,170.9 523.4,176 528.1,174.1" fill="#00ff39"/><polygon points="514.6,170.9 509.8,172.4 518.6,177.6 523.4,176" fill="#00fa21"/><polygon points="509.8,172.4 504.9,173.5 513.7,178.7 518.6,177.6" fill="#00f406"/><polygon points="504.9,173.5 499.8,174.3 508.8,179.5 513.7,178.7" fill="#18ef00"/><polygon points="499.8,174.3 494.7,174.6 503.7,179.9 508.8,179.5" fill="#36e000"/><polygon points="591.2,105 587.3,111.8 595.4,116.4 599.3,109.5" fill="#80ff4c"/><polygon points="587.3,111.8 583.4,118.3 591.5,122.9 595.4,116.4" fill="#60ff49"/><polygon points="583.4,118.3 579.4,124.5 587.5,129.2 591.5,122.9" fill="#43ff46"/><polygon points="579.4,124.5 575.4,130.4 583.6,135.1 587.5,129.2" fill="#3eff5a"/><polygon points="575.4,130.4 571.3,136 579.6,140.8 583.6,135.1" fill="#39ff6b"/><polygon points="571.3,136 567.3,141.3 575.5,146.1 579.6,140.8" fill="#34ff7a"/><polygon points="567.3,141.3 563.1,146.3 571.4,151.1 575.5,146.1" fill="#2fff87"/><polygon points="563.1,146.3 558.9,150.9 567.3,155.8 571.4,151.1" fill="#29ff90"/><polygon points="558.9,150.9 554.7,155.2 563.1,160.2 567.3,155.8" fill="#24ff97"/><polygon points="554.7,155.2 550.4,159.2 558.9,164.2 563.1,160.2" fill="#1fff9a"/><polygon points="550.4,159.2 546.1,162.9 554.6,167.9 558.9,164.2" fill="#1aff9a"/><polygon points="546.1,162.9 541.7,166.2 550.2,171.3 554.6,167.9" fill="#14ff96"/><polygon points="541.7,166.2 537.2,169.2 545.8,174.3 550.2,171.3" fill="#0fff8e"/><polygon points="537.2,169.2 532.7,171.8 541.3,177 545.8,174.3" fill="#0aff81"/><polygon points="532.7,171.8 528.1,174.1 536.8,179.3 541.3,177" fill="#05ff6f"/><polygon points="528.1,174.1 523.4,176 532.2,181.2 536.8,179.3" fill="#00ff59"/><polygon points="523.4,176 518.6,177.6 527.5,182.8 532.2,181.2" fill="#00f940"/><polygon points="518.6,177.6 513.7,178.7 522.7,184 527.5,182.8" fill="#00f424"/><polygon points="513.7,178.7 508.8,179.5 517.8,184.8 522.7,184" fill="#00ee06"/><polygon points="508.8,179.5 503.7,179.9 512.8,185.2 517.8,184.8" fill="#1bdf00"/><polygon points="599.3,109.5 595.4,116.4 603.5,121 607.3,114" fill="#6aff4c"/><polygon points="595.4,116.4 591.5,122.9 599.6,127.6 603.5,121" fill="#49ff49"/><polygon points="591.5,122.9 587.5,129.2 595.7,133.9 599.6,127.6" fill="#44ff5f"/><polygon points="587.5,129.2 583.6,135.1 591.8,139.9 595.7,133.9" fill="#3eff73"/><polygon points="583.6,135.1 579.6,140.8 587.8,145.6 591.8,139.9" fill="#39ff85"/><polygon points="579.6,140.8 575.5,146.1 583.8,151 587.8,145.6" fill="#34ff95"/><polygon points="575.5,146.1 571.4,151.1 579.8,156 583.8,151" fill="#2fffa2"/><polygon points="571.4,151.1 567.3,155.8 575.7,160.8 579.8,156" fill="#29ffac"/><polygon points="567.3,155.8 563.1,160.2 571.5,165.2 575.7,160.8" fill="#24ffb4"/><polygon points="563.1,160.2 558.9,164.2 567.4,169.3 571.5,165.2" fill="#1fffb8"/><polygon points="558.9,164.2 554.6,167.9 563.1,173 567.4,169.3" fill="#1affb8"/><polygon points="554.6,167.9 550.2,171.3 558.8,176.4 563.1,173" fill="#14ffb4"/><polygon points="550.2,171.3 545.8,174.3 554.5,179.5 558.8,176.4" fill="#0fffad"/><polygon points="545.8,174.3 541.3,177 550,182.2 554.5,179.5" fill="#0affa0"/><polygon points="541.3,177 536.8,179.3 545.6,184.5 550,182.2" fill="#05ff90"/><polygon points="536.8,179.3 532.2,181.2 541,186.5 545.6,184.5" fill="#00fe7a"/><polygon points="532.2,181.2 527.5,182.8 536.4,188.1 541,186.5" fill="#00f960"/><polygon points="527.5,182.8 522.7,184 531.6,189.3 536.4,188.1" fill="#00f443"/><polygon points="522.7,184 517.8,184.8 526.8,190.2 531.6,189.3" fill="#00ed23"/><polygon points="517.8,184.8 512.8,185.2 521.9,190.6 526.8,190.2" fill="#00de01"/><polygon points="607.3,114 603.5,121 611.6,125.6 615.4,118.6" fill="#52ff4c"/><polygon points="603.5,121 599.6,127.6 607.8,132.3 611.6,125.6" fill="#49ff61"/><polygon points="599.6,127.6 595.7,133.9 603.9,138.7 607.8,132.3" fill="#44ff77"/><polygon points="595.7,133.9 591.8,139.9 600,144.7 603.9,138.7" fill="#3eff8c"/><polygon points="591.8,139.9 587.8,145.6 596.1,150.5 600,144.7" fill="#39ff9f"/><polygon points="587.8,145.6 583.8,151 592.1,155.9 596.1,150.5" fill="#34ffaf"/><polygon points="583.8,151 579.8,156 588.1,161 592.1,155.9" fill="#2fffbd"/><polygon points="579.8,156 575.7,160.8 584.1,165.8 588.1,161" fill="#29ffc9"/><polygon points="575.7,160.8 571.5,165.2 580,170.2 584.1,165.8" fill="#24ffd1"/><polygon points="571.5,165.2 567.4,169.3 575.9,174.4 580,170.2" fill="#1fffd5"/><polygon points="567.4,169.3 563.1,173 571.7,178.2 575.9,174.4" fill="#19ffd6"/><polygon points="563.1,173 558.8,176.4 567.5,181.6 571.7,178.2" fill="#14ffd3"/><polygon points="558.8,176.4 554.5,179.5 563.2,184.7 567.5,181.6" fill="#0fffcc"/><polygon points="554.5,179.5 550,182.2 558.8,187.4 563.2,184.7" fill="#0affc0"/><polygon points="550,182.2 545.6,184.5 554.4,189.8 558.8,187.4" fill="#04ffb0"/><polygon points="545.6,184.5 541,186.5 549.9,191.8 554.4,189.8" fill="#00fe9a"/><polygon points="541,186.5 536.4,188.1 545.3,193.5 549.9,191.8" fill="#00f980"/><polygon points="536.4,188.1 531.6,189.3 540.7,194.7 545.3,193.5" fill="#00f362"/><polygon points="531.6,189.3 526.8,190.2 535.9,195.6 540.7,194.7" fill="#00ec41"/><polygon points="526.8,190.2 521.9,190.6 531.1,196 535.9,195.6" fill="#00dc1c"/><polygon points="615.4,118.6 611.6,125.6 619.8,130.3 623.6,123.3" fill="#4cff5e"/><polygon points="611.6,125.6 607.8,132.3 616,137 619.8,130.3" fill="#49ff79"/><polygon points="607.8,132.3 603.9,138.7 612.2,143.5 616,137" fill="#44ff90"/><polygon points="603.9,138.7 600,144.7 608.3,149.6 612.2,143.5" fill="#3fffa6"/><polygon points="600,144.7 596.1,150.5 604.4,155.4 608.3,149.6" fill="#39ffb9"/><polygon points="596.1,150.5 592.1,155.9 600.5,160.9 604.4,155.4" fill="#34ffca"/><polygon points="592.1,155.9 588.1,161 596.6,166 600.5,160.9" fill="#2fffd9"/><polygon points="588.1,161 584.1,165.8 592.6,170.8 596.6,166" fill="#29ffe5"/><polygon points="584.1,165.8 580,170.2 588.5,175.4 592.6,170.8" fill="#24ffee"/><polygon points="580,170.2 575.9,174.4 584.5,179.5 588.5,175.4" fill="#1ffff3"/><polygon points="575.9,174.4 571.7,178.2 580.3,183.4 584.5,179.5" fill="#19fff5"/><polygon points="571.7,178.2 567.5,181.6 576.1,186.8 580.3,183.4" fill="#14fff2"/><polygon points="567.5,181.6 563.2,184.7 571.9,190 576.1,186.8" fill="#0fffec"/><polygon points="563.2,184.7 558.8,187.4 567.6,192.8 571.9,190" fill="#09ffe1"/><polygon points="558.8,187.4 554.4,189.8 563.3,195.2 567.6,192.8" fill="#04ffd1"/><polygon points="554.4,189.8 549.9,191.8 558.8,197.2 563.3,195.2" fill="#00febb"/><polygon points="549.9,191.8 545.3,193.5 554.3,198.9 558.8,197.2" fill="#00f8a0"/><polygon points="545.3,193.5 540.7,194.7 549.8,200.2 554.3,198.9" fill="#00f381"/><polygon points="540.7,194.7 535.9,195.6 545.1,201 549.8,200.2" fill="#00eb5e"/><polygon points="535.9,195.6 531.1,196 540.4,201.5 545.1,201" fill="#00db38"/><polygon points="623.6,123.3 619.8,130.3 628,135.1 631.8,127.9" fill="#4cff75"/><polygon points="619.8,130.3 616,137 624.3,141.9 628,135.1" fill="#49ff91"/><polygon points="616,137 612.2,143.5 620.5,148.3 624.3,141.9" fill="#44ffa9"/><polygon points="612.2,143.5 608.3,149.6 616.7,154.5 620.5,148.3" fill="#3fffbf"/><polygon points="608.3,149.6 604.4,155.4 612.8,160.4 616.7,154.5" fill="#39ffd4"/><polygon points="604.4,155.4 600.5,160.9 608.9,165.9 612.8,160.4" fill="#34ffe6"/><polygon points="600.5,160.9 596.6,166 605,171.1 608.9,165.9" fill="#2ffff5"/><polygon points="596.6,166 592.6,170.8 601.1,176 605,171.1" fill="#29fcff"/><polygon points="592.6,170.8 588.5,175.4 597.1,180.5 601.1,176" fill="#24f3ff"/><polygon points="588.5,175.4 584.5,179.5 593.1,184.7 597.1,180.5" fill="#1fedff"/><polygon points="584.5,179.5 580.3,183.4 589,188.6 593.1,184.7" fill="#19eaff"/><polygon points="580.3,183.4 576.1,186.8 584.9,192.1 589,188.6" fill="#14ecff"/><polygon points="576.1,186.8 571.9,190 580.7,195.3 584.9,192.1" fill="#0ff2ff"/><polygon points="571.9,190 567.6,192.8 576.5,198.1 580.7,195.3" fill="#09fdff"/><polygon points="567.6,192.8 563.3,195.2 572.2,200.6 576.5,198.1" fill="#04fff2"/><polygon points="563.3,195.2 558.8,197.2 567.8,202.7 572.2,200.6" fill="#00fedd"/><polygon points="558.8,197.2 554.3,198.9 563.4,204.4 567.8,202.7" fill="#00f8c0"/><polygon points="554.3,198.9 549.8,200.2 558.9,205.7 563.4,204.4" fill="#00f3a0"/><polygon points="549.8,200.2 545.1,201 554.3,206.6 558.9,205.7" fill="#00ea7c"/><polygon points="545.1,201 540.4,201.5 549.6,207.1 554.3,206.6" fill="#00da53"/><polygon points="631.8,127.9 628,135.1 636.3,139.9 640,132.7" fill="#4cff8d"/><polygon points="628,135.1 624.3,141.9 632.6,146.7 636.3,139.9" fill="#4affa9"/><polygon points="624.3,141.9 620.5,148.3 628.8,153.3 632.6,146.7" fill="#44ffc2"/><polygon points="620.5,148.3 616.7,154.5 625,159.5 628.8,153.3" fill="#3fffd9"/><polygon points="616.7,154.5 612.8,160.4 621.2,165.4 625,159.5" fill="#3affef"/><polygon points="612.8,160.4 608.9,165.9 617.4,171 621.2,165.4" fill="#34fdff"/><polygon points="608.9,165.9 605,171.1 613.5,176.2 617.4,171" fill="#2fecff"/><polygon points="605,171.1 601.1,176 609.6,181.1 613.5,176.2" fill="#29dfff"/><polygon points="601.1,176 597.1,180.5 605.7,185.7 609.6,181.1" fill="#24d5ff"/><polygon points="597.1,180.5 593.1,184.7 601.7,190 605.7,185.7" fill="#1fceff"/><polygon points="593.1,184.7 589,188.6 597.7,193.9 601.7,190" fill="#19cbff"/><polygon points="589,188.6 584.9,192.1 593.7,197.5 597.7,193.9" fill="#14ccff"/><polygon points="584.9,192.1 580.7,195.3 589.5,200.7 593.7,197.5" fill="#0ed2ff"/><polygon points="580.7,195.3 576.5,198.1 585.4,203.6 589.5,200.7" fill="#09dcff"/><polygon points="576.5,198.1 572.2,200.6 581.1,206.1 585.4,203.6" fill="#04eaff"/><polygon points="572.2,200.6 567.8,202.7 576.9,208.2 581.1,206.1" fill="#00fdfd"/><polygon points="567.8,202.7 563.4,204.4 572.5,209.9 576.9,208.2" fill="#00f8e0"/><polygon points="563.4,204.4 558.9,205.7 568.1,211.2 572.5,209.9" fill="#00f3c0"/><polygon points="558.9,205.7 554.3,206.6 563.6,212.2 568.1,211.2" fill="#00e99a"/><polygon points="554.3,206.6 549.6,207.1 559,212.7 563.6,212.2" fill="#00d96f"/></g>
<line x1="559" y1="219.7" x2="559" y2="212.2" stroke="#111" stroke-width="0.8" stroke-opacity="1.0"/><circle cx="559" cy="219.7" r="2.8" fill="#ffc8c8" stroke="#8a6a6a" stroke-width=".5"/>
<line x1="516.8" y1="95.4" x2="516.8" y2="139.7" stroke="#111" stroke-width="0.9" stroke-opacity="0.42"/><circle cx="516.8" cy="95.4" r="2.8" fill="#c80000" stroke="#6e0000" stroke-width=".5"/>
<g fill="#000"><circle cx="391.6" cy="258.1" r="1.1"/><circle cx="433" cy="270.8" r="1.1"/><circle cx="474.3" cy="283.4" r="1.1"/><circle cx="515.7" cy="296" r="1.1"/><circle cx="557" cy="308.6" r="1.1"/><circle cx="572.6" cy="291.3" r="1.1"/><circle cx="588.1" cy="274" r="1.1"/><circle cx="603.7" cy="256.7" r="1.1"/><circle cx="619.3" cy="239.4" r="1.1"/><circle cx="634.8" cy="222.1" r="1.1"/><circle cx="389.1" cy="218.4" r="1.1"/><circle cx="387.4" cy="191.8" r="1.1"/><circle cx="385.8" cy="165.3" r="1.1"/><circle cx="384.1" cy="138.8" r="1.1"/><circle cx="382.4" cy="112.3" r="1.1"/><circle cx="380.7" cy="85.8" r="1.1"/></g><g font-family='"Liberation Sans","DejaVu Sans",sans-serif' font-size="8.7" fill="#333"><text x="383.2" y="266.7" text-anchor="middle">60</text><text x="424.6" y="279.4" text-anchor="middle">50</text><text x="465.9" y="292" text-anchor="middle">40</text><text x="507.3" y="304.6" text-anchor="middle">30</text><text x="548.6" y="317.2" text-anchor="middle">20</text><text x="568.5" y="317" text-anchor="middle">100</text><text x="581.8" y="299.7" text-anchor="middle">90</text><text x="597.3" y="282.4" text-anchor="middle">80</text><text x="612.9" y="265.1" text-anchor="middle">70</text><text x="628.5" y="247.8" text-anchor="middle">60</text><text x="644" y="230.5" text-anchor="middle">50</text><text x="384.9" y="216" text-anchor="end">10</text><text x="383.2" y="189.4" text-anchor="end">15</text><text x="381.6" y="162.9" text-anchor="end">20</text><text x="379.9" y="136.4" text-anchor="end">25</text><text x="378.2" y="109.9" text-anchor="end">30</text><text x="376.5" y="83.4" text-anchor="end">35</text></g>
<rect x="13.5" y="1.5" width="90" height="47" fill="#fff" stroke="#b2b2b2" stroke-width="1"/><text x="15" y="26.1" font-family='"Liberation Serif","DejaVu Serif",serif' font-weight="bold" font-size="10.3" fill="#000">BTE (%)</text><text x="15" y="40.3" font-family='"Liberation Serif","DejaVu Serif",serif' font-size="10.3" fill="#1a1aff">14</text><linearGradient id="g1" x1="0" x2="1" y1="0" y2="0"><stop offset="0" stop-color="#0000e6"/><stop offset=".5" stop-color="#00ee00"/><stop offset="1" stop-color="#ee0000"/></linearGradient><rect x="28.5" y="31.5" width="32.5" height="12.1" fill="url(#g1)" stroke="#000" stroke-opacity=".25" stroke-width=".5"/><text x="64.8" y="40.3" font-family='"Liberation Serif","DejaVu Serif",serif' font-size="10.3" fill="#ff1a1a">32</text>
<rect x="346.5" y="3.5" width="90" height="47" fill="#fff" stroke="#b2b2b2" stroke-width="1"/><text x="349" y="28.4" font-family='"Liberation Serif","DejaVu Serif",serif' font-weight="bold" font-size="10.3" fill="#000">BTE (%)</text><text x="349" y="42.6" font-family='"Liberation Serif","DejaVu Serif",serif' font-size="10.3" fill="#1a1aff">13.6</text><linearGradient id="g2" x1="0" x2="1" y1="0" y2="0"><stop offset="0" stop-color="#0000e6"/><stop offset=".5" stop-color="#00ee00"/><stop offset="1" stop-color="#ee0000"/></linearGradient><rect x="370" y="33.6" width="32.5" height="12.1" fill="url(#g2)" stroke="#000" stroke-opacity=".25" stroke-width=".5"/><text x="405.8" y="42.6" font-family='"Liberation Serif","DejaVu Serif",serif' font-size="10.3" fill="#ff1a1a">31.1</text>
<g font-family='"Liberation Sans","DejaVu Sans",sans-serif' fill="#222"><text transform="translate(9.3,175.8) rotate(-90)" font-size="11.3" textLength="36.6" lengthAdjust="spacingAndGlyphs">BTE (%)</text><text transform="translate(345.6,194.4) rotate(-90)" font-size="11.3" textLength="36.6" lengthAdjust="spacingAndGlyphs">BTE (%)</text><text x="21.6" y="308.9" font-size="11.3" textLength="94" lengthAdjust="spacingAndGlyphs">B: AOME Blend (%)</text><text x="255" y="311.5" font-size="11.3" textLength="67.5" lengthAdjust="spacingAndGlyphs">C: CuO (ppm)</text><text x="408.4" y="322.9" font-size="11.3" textLength="62.6" lengthAdjust="spacingAndGlyphs">B: AOME (%)</text><text x="617.3" y="288" font-size="11.3" textLength="66.5" lengthAdjust="spacingAndGlyphs">C: CuO (ppm)</text></g>
<g font-family='"Liberation Serif","DejaVu Serif",serif' font-size="18.7" fill="#111"><text x="105" y="376">(a)</text><text x="588" y="376">(b)</text></g>
</svg>
</body></html>
